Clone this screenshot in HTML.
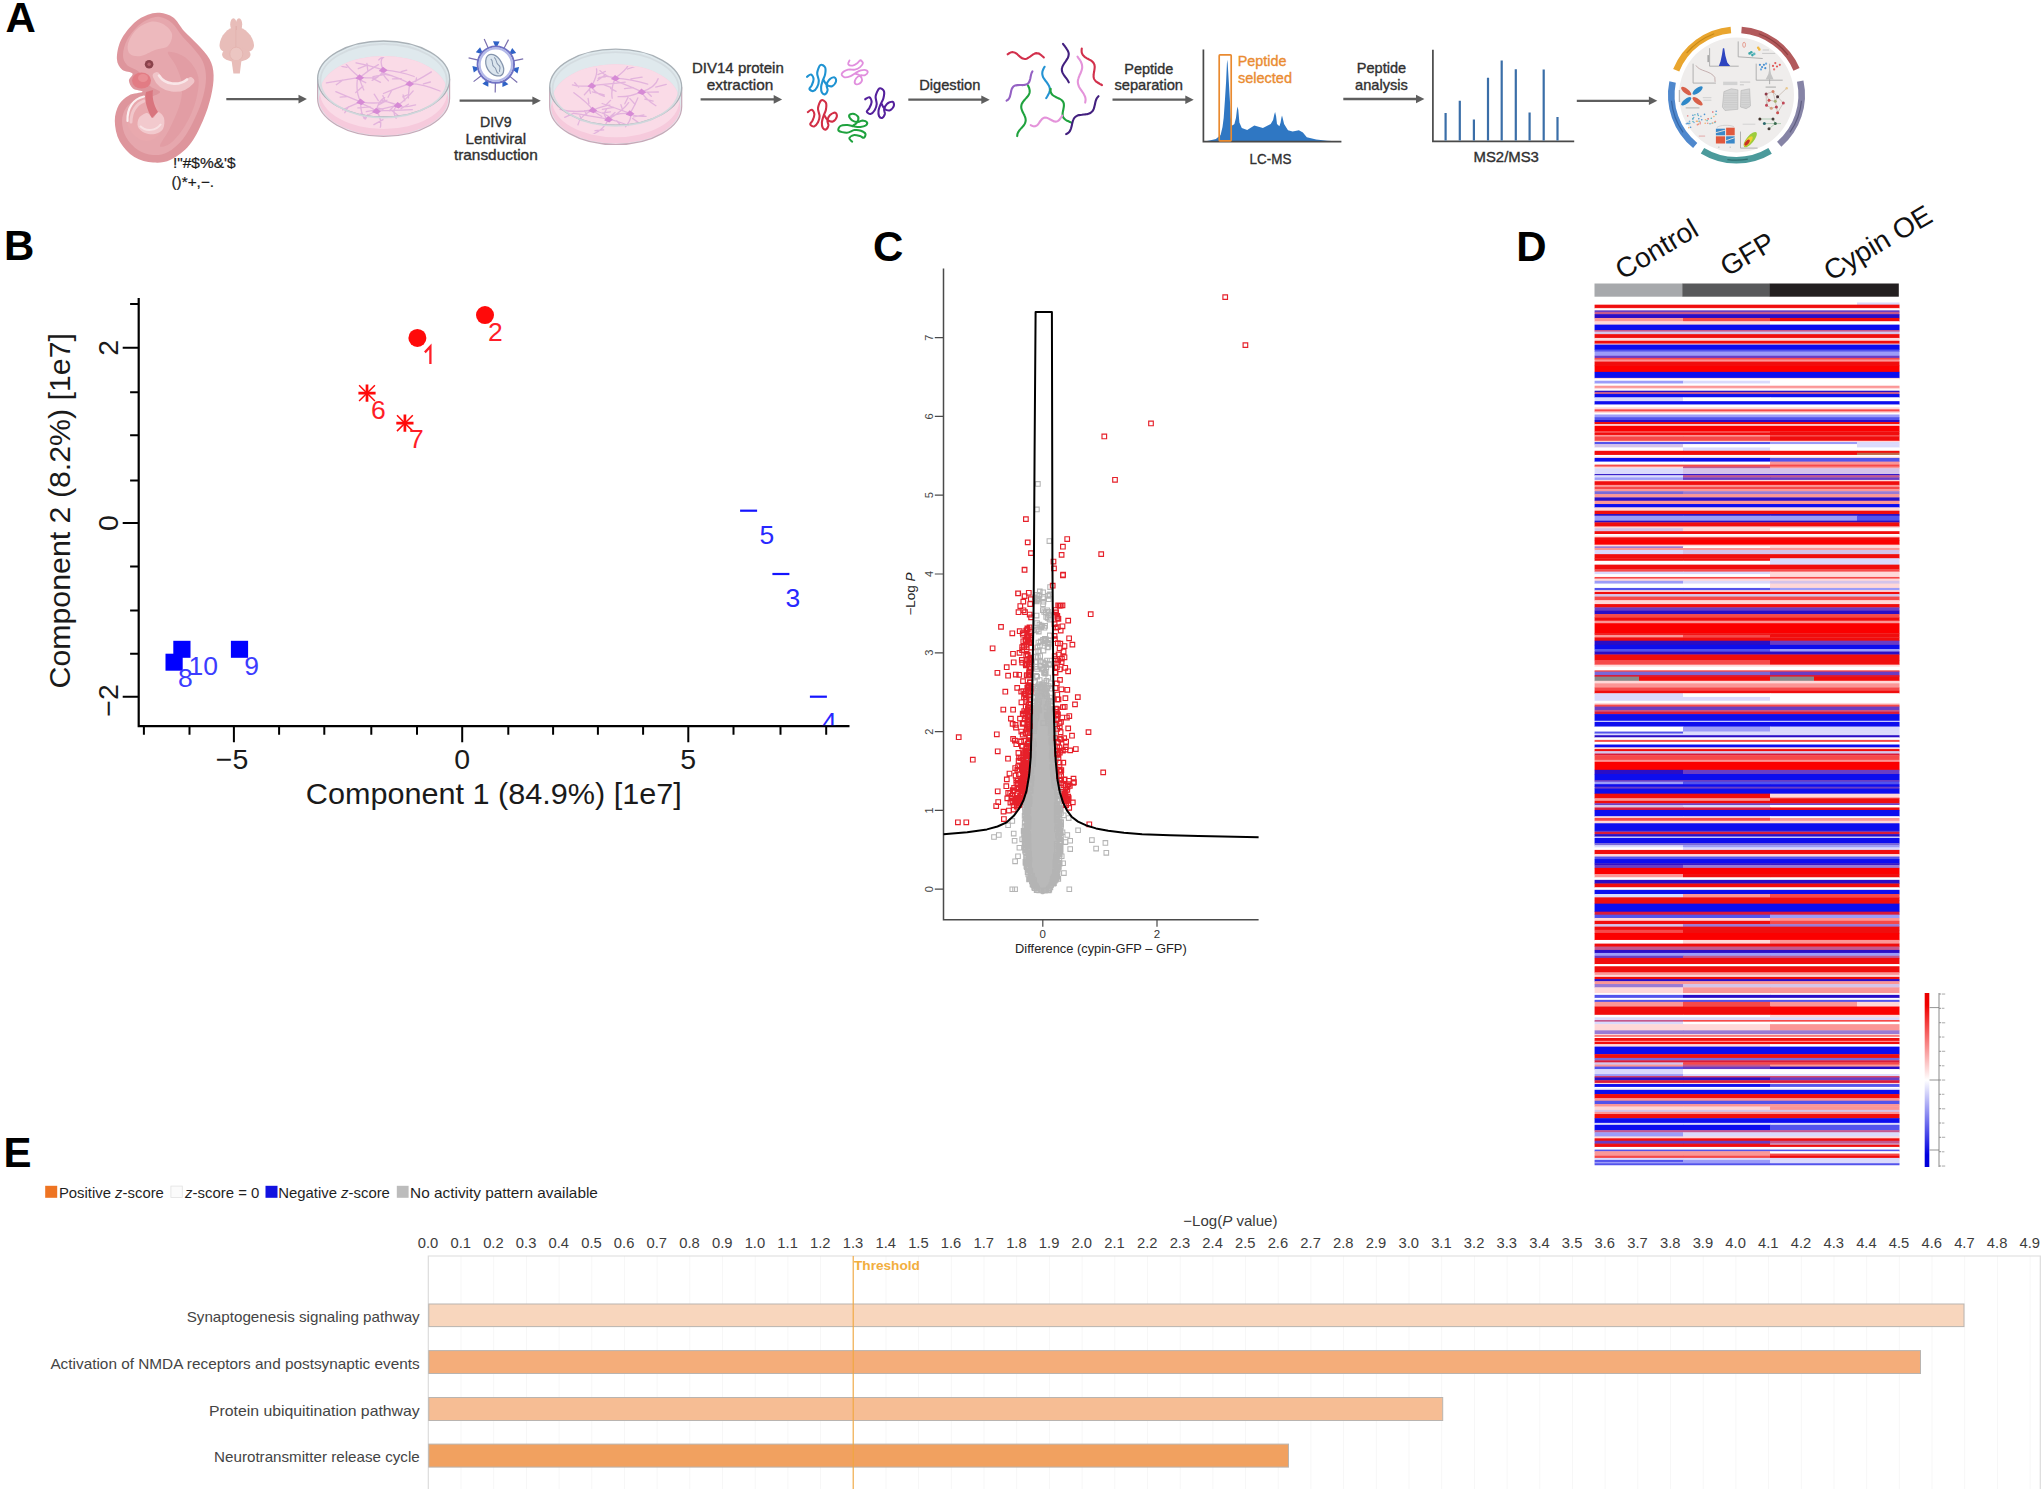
<!DOCTYPE html>
<html><head><meta charset="utf-8"><title>Figure</title>
<style>html,body{margin:0;padding:0;background:#fff;}body{width:2043px;height:1489px;overflow:hidden;font-family:"Liberation Sans",sans-serif;}svg{display:block;}</style></head>
<body>
<svg width="2043" height="1489" viewBox="0 0 2043 1489" font-family="Liberation Sans, sans-serif">
<defs>
<linearGradient id="lg" x1="0" y1="0" x2="0" y2="1"><stop offset="0" stop-color="#e80000"/><stop offset="0.07" stop-color="#f00000"/><stop offset="0.5" stop-color="#ffffff"/><stop offset="0.93" stop-color="#0000e0"/><stop offset="1" stop-color="#0000d8"/></linearGradient>
<filter id="hb" x="-1%" y="-1%" width="102%" height="102%"><feGaussianBlur stdDeviation="0.5"/></filter>
<filter id="soft" x="-5%" y="-5%" width="110%" height="110%"><feGaussianBlur stdDeviation="0.45"/></filter>
</defs>
<rect width="2043" height="1489" fill="#fff"/>
<g id="A">
<g filter="url(#soft)">
<path d="M159.8 12.8C164.1 13.2 169.3 14.5 173.3 17.5C177.3 20.5 180 26.4 184 30.9C188 35.4 193.2 39.6 197.4 44.3C201.7 49 206.8 54 209.5 59.1C212.2 64.2 213.4 68.9 213.6 75.2C213.8 81.5 212.7 89.1 210.9 96.7C209.1 104.3 206.4 112.9 202.8 120.9C199.2 129 194.8 138.5 189.4 145C184 151.5 176.7 156.9 170.6 159.8C164.5 162.7 159.1 162.9 153.1 162.5C147.1 162.1 139.9 160.7 134.3 157.1C128.7 153.5 122.8 147 119.5 141C116.2 135 114.9 126.9 114.8 120.9C114.7 114.9 116.6 109 118.9 104.8C121.2 100.5 125 97.6 128.9 95.4C132.8 93.2 141.8 92.9 142.5 91.8C143.2 90.7 135.3 90.5 133 88.6C130.7 86.7 129 83.1 128.9 80.6C128.8 78.1 133.6 75.3 132.5 73.5C131.4 71.7 124.8 72.2 122.2 69.8C119.6 67.4 117.1 64 116.9 59.1C116.7 54.2 118 46.3 120.9 40.3C123.8 34.2 129.8 27.1 134.3 22.8C138.8 18.6 143.4 16.5 147.7 14.8C151.9 13.1 155.5 12.4 159.8 12.8Z" fill="#de959c"/>
<path d="M160 17C163.8 17.7 168.3 19.8 172 23C175.7 26.2 178.3 31.7 182 36C185.7 40.3 190.5 44.7 194 49C197.5 53.3 201 57.2 203 62C205 66.8 206 72.2 206 78C206 83.8 204.8 90.3 203 97C201.2 103.7 198.3 111 195 118C191.7 125 187.5 133.3 183 139C178.5 144.7 173 149.3 168 152C163 154.7 158 155.3 153 155C148 154.7 142.5 153 138 150C133.5 147 128.7 141.8 126 137C123.3 132.2 122 125.8 122 121C122 116.2 123.7 111.5 126 108C128.3 104.5 132 101.8 136 100C140 98.2 146 98.3 150 97C154 95.7 160 93.8 160 92C160 90.2 153.5 89.3 150 86C146.5 82.7 142.8 75.5 139 72C135.2 68.5 129.7 67.8 127 65C124.3 62.2 123 59.2 123 55C123 50.8 124.5 44.8 127 40C129.5 35.2 134.3 29.5 138 26C141.7 22.5 145.3 20.5 149 19C152.7 17.5 156.2 16.3 160 17Z" fill="#e6a7ad"/>
<path d="M150 22C154.5 21 159.3 22 163 24C166.7 26 171.2 30.3 172 34C172.8 37.7 170.8 43.3 168 46C165.2 48.7 159.5 48.3 155 50C150.5 51.7 145.2 55.3 141 56C136.8 56.7 132.2 56 130 54C127.8 52 127 48 128 44C129 40 132.3 33.7 136 30C139.7 26.3 145.5 23 150 22Z" fill="#edb9bd"/>
<path d="M168 52C169.7 50.7 181 54 186 58C191 62 196.3 69 198 76C199.7 83 198 92 196 100C194 108 190 117 186 124C182 131 176.3 138.3 172 142C167.7 145.7 160.3 148.3 160 146C159.7 143.7 166.7 135 170 128C173.3 121 178 111.3 180 104C182 96.7 182.7 90.3 182 84C181.3 77.7 178.3 71.3 176 66C173.7 60.7 166.3 53.3 168 52Z" fill="#df989f" opacity="0.7"/>
<path d="M141 97C144.2 96.7 148.8 97.8 152 100C155.2 102.2 158.2 106 160 110C161.8 114 163.3 119.7 163 124C162.7 128.3 160.7 133.2 158 136C155.3 138.8 150.7 140.8 147 141C143.3 141.2 139.2 139.5 136 137C132.8 134.5 129.3 130.2 128 126C126.7 121.8 127.2 116 128 112C128.8 108 130.8 104.5 133 102C135.2 99.5 137.8 97.3 141 97Z" fill="#e9a9ae"/>
<path d="M127.5 121C127 108 133 99 144 96.5" stroke="#fbeff0" stroke-width="2.2" fill="none" stroke-linecap="round"/>
<path d="M131 122C131 112 136 104 144 101" stroke="#f1c6ca" stroke-width="3" fill="none" stroke-linecap="round"/>
<path d="M139 118C140.5 115.7 144.7 113 147 113C149.3 113 151.2 118.2 153 118C154.8 117.8 156.2 112 158 112C159.8 112 163.2 115.2 164 118C164.8 120.8 164.5 126.3 163 129C161.5 131.7 158 133.3 155 134C152 134.7 147.8 134.2 145 133C142.2 131.8 139 129.5 138 127C137 124.5 137.5 120.3 139 118Z" fill="#f2c9cd"/>
<path d="M140 126C146 132 156 131 161 124" stroke="#f8e1e3" stroke-width="2" fill="none"/>
<path d="M146 92C144 100 147 110 152 118L158 112C153 104 152 96 153 90Z" fill="#d9757e"/>
<ellipse cx="141.5" cy="80.5" rx="9.5" ry="8" fill="#e27c84"/>
<ellipse cx="143" cy="78" rx="5" ry="4" fill="#e98f95"/>
<path d="M156.5 76C162 90 181 92 190.5 81" stroke="#f0c5c9" stroke-width="7.5" fill="none" stroke-linecap="round"/>
<path d="M159 75.5C165 85 179 86 187 79.5" stroke="#f9e6e8" stroke-width="2.6" fill="none" stroke-linecap="round"/>
<circle cx="149.1" cy="64.2" r="4.3" fill="#8a434c"/><circle cx="149.1" cy="64.2" r="1.7" fill="#b4646c"/>
</g>
<g filter="url(#soft)">
<ellipse cx="233.4" cy="24.2" rx="3.2" ry="6" fill="#e8bdb9"/><ellipse cx="239" cy="24.2" rx="3.2" ry="6" fill="#e8bdb9"/><rect x="231" y="22" width="10.5" height="8" fill="#e8bdb9"/>
<path d="M236 27C228 27 220 36 219.5 45C219.5 52 226 54 236 50Z" fill="#e8bdb9"/>
<path d="M236.5 27C244.5 27 253.5 36 254 45C254 52 247 54 236.5 50Z" fill="#e8bdb9"/>
<path d="M236.2 26V50" stroke="#e0aeaa" stroke-width="1.1"/>
<ellipse cx="236.3" cy="54.5" rx="14.2" ry="7.3" fill="#e8bdb9"/>
<ellipse cx="236.3" cy="54" rx="6.5" ry="6.8" fill="#ecc6c2" stroke="#e0aeaa" stroke-width="0.6"/>
<path d="M231.5 60H241.5L239.8 73.5H233.4Z" fill="#e8bdb9"/>
</g>
<text x="173" y="167.8" font-size="13.8" fill="#1c1c1c" stroke="#1c1c1c" stroke-width="0.2" textLength="62.5" lengthAdjust="spacingAndGlyphs">!&quot;#$%&amp;&apos;$</text>
<text x="171.5" y="187.2" font-size="13.8" fill="#1c1c1c" stroke="#1c1c1c" stroke-width="0.2" textLength="42.5" lengthAdjust="spacingAndGlyphs">()*+,−.</text>
<path d="M226.3 99.1H300.9" stroke="#5e5e5e" stroke-width="2.3" fill="none"/>
<path d="M298.5 94.8L306.9 99.1L298.5 103.4Z" fill="#5e5e5e"/>
<g filter="url(#soft)">
<path d="M317.6 79V98.3A66.0 38.0 0 0 0 449.6 98.3V79A66.0 38.0 0 0 0 317.6 79Z" fill="#dfe9ed"/>
<path d="M320.1 92.5A63.5 36.5 0 0 1 447.1 92.5L448.4 98.3A64.8 37.2 0 0 1 318.8 98.3Z" fill="#f6cadc"/>
<ellipse cx="383.6" cy="92.5" rx="63.5" ry="36.5" fill="#fadbe7"/>
<clipPath id="ds11"><ellipse cx="383.6" cy="92.5" rx="62.5" ry="35.5"/></clipPath>
<g clip-path="url(#ds11)"><path d="M359.7 77.4Q342.6 80.2 326.4 82.9M342.6 80.2l-6.3 4.5M359.7 77.4Q346.9 67.3 343.8 60.3M346.9 67.3l-11.8 -2.1M359.7 77.4Q367.8 70.6 378.4 64.6M367.8 70.6l-0.9 -7.3M359.7 77.4Q372.6 78.3 376.4 77.6M372.6 78.3l7.9 4M359.7 77.4Q359.3 79.7 363.8 90M359.3 79.7l6.4 3M383.2 69.9Q401.2 71.7 414.2 76.5M401.2 71.7l5.6 -1.6M383.2 69.9Q381.1 73.6 388.4 80.7M381.1 73.6l11.4 2.2M383.2 69.9Q382.6 74.9 372.2 80.4M382.6 74.9l-9.6 1.7M383.2 69.9Q367.7 64.8 356 62.8M367.7 64.8l-9.4 3.9M383.2 69.9Q378.7 59.9 383.8 56.9M378.7 59.9l5.7 -5M409.6 83.6Q392.1 89.7 383.5 93.5M392.1 89.7l-4.1 7.6M409.6 83.6Q401.3 78.7 381.7 72.4M401.3 78.7l-8.8 0.2M409.6 83.6Q415.7 81.7 431.4 71.9M415.7 81.7l0.8 -3.7M409.6 83.6Q423.4 83.9 440 91M423.4 83.9l7 -1.9M409.6 83.6Q408.4 94.5 408.4 98.1M408.4 94.5l-5.7 2.4M360.7 101.8Q348.5 106.7 342.7 109.9M348.5 106.7l-3.7 6M360.7 101.8Q346.9 96.6 335.8 91.7M346.9 96.6l-6.7 0.6M360.7 101.8Q355.8 92.6 357.3 80M355.8 92.6l7.1 -6.3M360.7 101.8Q379 104.8 387 100.2M379 104.8l7.5 -4M360.7 101.8Q360.3 113.8 365.1 119.1M360.3 113.8l5.6 2.1M376.4 111Q367.5 114.8 363.8 118M367.5 114.8l-2 4.1M376.4 111Q370.3 106.9 358.6 102.4M370.3 106.9l-12.4 1M376.4 111Q378.3 100.6 384.7 97.6M378.3 100.6l-4.1 -6.4M376.4 111Q389.3 110.7 412.3 109.7M389.3 110.7l6 -5.8M376.4 111Q383 119.6 379.6 130.7M383 119.6l-9.1 5M397.9 105.2Q383 109.4 366.3 111.7M383 109.4l-5.7 -1.4M397.9 105.2Q385.2 100.9 381.7 100.5M385.2 100.9l-2.3 -5.2M397.9 105.2Q404.8 100.8 413.2 90.9M404.8 100.8l-1.7 -5.9M397.9 105.2Q401 108.7 415.6 104.9M401 108.7l7.4 -4.5M397.9 105.2Q391.1 110.1 396.1 118.2M391.1 110.1l7 5.5" stroke="#d9a3d8" stroke-width="1.3" fill="none" opacity="0.7" stroke-linecap="round"/>
<path d="M355.3 78.4L359.4 74.2L364.1 77.8L360.5 80.6Z" fill="#d68ad5"/>
<path d="M378.8 70.9L382.9 66.7L387.6 70.3L384 73.1Z" fill="#d68ad5"/>
<path d="M405.2 84.6L409.3 80.4L414 84L410.4 86.8Z" fill="#d68ad5"/>
<path d="M356.3 102.8L360.4 98.6L365.1 102.2L361.5 105Z" fill="#d68ad5"/>
<path d="M372 112L376.1 107.8L380.8 111.4L377.2 114.2Z" fill="#d68ad5"/>
<path d="M393.5 106.2L397.6 102L402.3 105.6L398.7 108.4Z" fill="#d68ad5"/>
</g>
<path d="M317.6 79V98.3A66.0 38.0 0 0 0 449.6 98.3V79" fill="none" stroke="#c6a9b8" stroke-width="1.2"/>
<ellipse cx="383.6" cy="79" rx="66.0" ry="38.0" fill="none" stroke="#a9b1b7" stroke-width="1.3"/>
<ellipse cx="383.6" cy="80.8" rx="63.2" ry="36.8" fill="none" stroke="#d3dadf" stroke-width="1.8" opacity="0.9"/>
</g>
<g filter="url(#soft)">
<path d="M503.9 48.5L508.5 39.6M513.4 60.9L523.2 58.9M509.6 76.1L517.3 82.5M495.4 82.6L495.2 92.6M481.5 75.5L473.6 81.6M478.3 60.2L468.6 57.8M488.3 48.2L484.2 39.1" stroke="#7a6fae" stroke-width="1.2" fill="none"/>
<path d="M497.4 46.1L499.6 41.5L493 41.3L495 46.1ZM511.2 54.3L516.2 53.1L512.2 47.9L509.8 52.4ZM513.5 70.2L517.5 73.4L519.1 67L514 67.9ZM502.4 81.9L502.4 87.1L508.4 84.3L504.6 80.9ZM486.4 80.6L482.4 83.8L488.3 86.8L488.5 81.6ZM477.4 67.2L472.4 66.1L473.8 72.5L477.9 69.5ZM482.3 51.9L480.1 47.2L475.8 52.3L480.8 53.7Z" fill="#2f62c6"/>
<circle cx="495.8" cy="64.6" r="18.2" fill="#fff" stroke="#6f72c4" stroke-width="2"/>
<circle cx="495.8" cy="64.6" r="16.2" fill="none" stroke="#b4b9e8" stroke-width="2.2"/>
<g transform="translate(495.8 64.6) scale(1.12) translate(-495.8 -64.6)">
<path d="M487.3 58.6C489.8 53.1 496.8 55.1 500.8 62.6C504.8 69.6 502.8 75.6 496.8 74.6C489.8 73.6 485.3 65.6 487.3 58.6Z" fill="#dbe5ee" stroke="#8494ac" stroke-width="1.1"/>
<path d="M491.3 59.6c3 2 0 5 3 7s1 5 4 6M494.3 58.1c3 2 1 5 4 7s0 4 1 6" fill="none" stroke="#8494ac" stroke-width="0.9"/>
</g></g>
<path d="M459.6 100.7H534.8" stroke="#5e5e5e" stroke-width="2.3" fill="none"/>
<path d="M532.4 96.4L540.8 100.7L532.4 105Z" fill="#5e5e5e"/>
<text x="480.1" y="126.7" font-size="15" fill="#303030" stroke="#303030" stroke-width="0.36" textLength="31.5" lengthAdjust="spacingAndGlyphs">DIV9</text>
<text x="465.6" y="143.7" font-size="15" fill="#303030" stroke="#303030" stroke-width="0.36" textLength="60.5" lengthAdjust="spacingAndGlyphs">Lentiviral</text>
<text x="453.9" y="160.4" font-size="15" fill="#303030" stroke="#303030" stroke-width="0.36" textLength="83.8" lengthAdjust="spacingAndGlyphs">transduction</text>
<g filter="url(#soft)">
<path d="M549.7 87.2V106.5A66.0 38.0 0 0 0 681.7 106.5V87.2A66.0 38.0 0 0 0 549.7 87.2Z" fill="#dfe9ed"/>
<path d="M552.2 100.7A63.5 36.5 0 0 1 679.2 100.7L680.5 106.5A64.8 37.2 0 0 1 550.9 106.5Z" fill="#f6cadc"/>
<ellipse cx="615.7" cy="100.7" rx="63.5" ry="36.5" fill="#fadbe7"/>
<clipPath id="ds23"><ellipse cx="615.7" cy="100.7" rx="62.5" ry="35.5"/></clipPath>
<g clip-path="url(#ds23)"><path d="M591.8 85.6Q603.5 84.7 625.2 82.2M603.5 84.7l7.3 2.7M591.8 85.6Q592.3 91.9 604.4 96.3M592.3 91.9l11.9 3M591.8 85.6Q589.6 89.6 584.4 94.7M589.6 89.6l0.9 3.8M591.8 85.6Q578.7 87.1 572.4 84.9M578.7 87.1l-4 -4.3M591.8 85.6Q597.9 74.6 596.5 68.8M597.9 74.6l7.5 -3.2M615.3 78.1Q605.5 76.9 600 70.6M605.5 76.9l-6.5 0.5M615.3 78.1Q627.5 69 629.1 63.4M627.5 69l10.9 -3.6M615.3 78.1Q631 78.9 647.7 84.2M631 78.9l11.1 -1.8M615.3 78.1Q610.6 88.5 612.2 98.2M610.6 88.5l5.5 2.8M615.3 78.1Q605.7 74.5 598.2 78.4M605.7 74.5l-8.2 6.1M641.7 91.8Q655.7 87.2 658.1 78.7M655.7 87.2l10.6 -2.8M641.7 91.8Q647.2 92.3 658.4 92M647.2 92.3l4.1 3.9M641.7 91.8Q644.8 99.1 655.9 105.7M644.8 99.1l8.3 2.1M641.7 91.8Q628 97.4 618.1 96.6M628 97.4l-3.2 6.4M641.7 91.8Q633.3 87.7 617 81.4M633.3 87.7l-8.8 1M592.8 110Q579.9 115.7 577.9 124.8M579.9 115.7l2.1 5M592.8 110Q573.4 113.3 560.1 109.3M573.4 113.3l-8.7 4M592.8 110Q588.9 103.7 573.9 92.7M588.9 103.7l-0.8 -5.3M592.8 110Q605.7 105.2 609.9 105.1M605.7 105.2l4.8 -4.8M592.8 110Q602.6 112.8 607.7 115.9M602.6 112.8l7.9 -1M608.5 119.2Q622.9 110.9 628.6 102.6M622.9 110.9l-2 -6.2M608.5 119.2Q616.7 120.8 628.4 125.5M616.7 120.8l3.1 3.4M608.5 119.2Q603.6 129.9 592.6 134.5M603.6 129.9l-8.6 0.8M608.5 119.2Q587 115.3 574 113.4M587 115.3l-2.4 -4.7M608.5 119.2Q601.8 116.5 606.3 109.3M601.8 116.5l-8.9 -5.8M630 113.4Q613.4 107.3 602.1 103.5M613.4 107.3l-11 2M630 113.4Q635.2 104.5 637.8 97.9M635.2 104.5l-5.3 -5.9M630 113.4Q633.5 116.8 646.1 116.3M633.5 116.8l10.4 -1.9M630 113.4Q632.6 118.4 625.6 126.7M632.6 118.4l6.7 4.8M630 113.4Q615 112.5 608.8 118.2M615 112.5l-5.2 4.5" stroke="#d9a3d8" stroke-width="1.3" fill="none" opacity="0.7" stroke-linecap="round"/>
<path d="M587.4 86.6L591.5 82.4L596.2 86L592.6 88.8Z" fill="#d68ad5"/>
<path d="M610.9 79.1L615 74.9L619.7 78.5L616.1 81.3Z" fill="#d68ad5"/>
<path d="M637.3 92.8L641.4 88.6L646.1 92.2L642.5 95Z" fill="#d68ad5"/>
<path d="M588.4 111L592.5 106.8L597.2 110.4L593.6 113.2Z" fill="#d68ad5"/>
<path d="M604.1 120.2L608.2 116L612.9 119.6L609.3 122.4Z" fill="#d68ad5"/>
<path d="M625.6 114.4L629.7 110.2L634.4 113.8L630.8 116.6Z" fill="#d68ad5"/>
</g>
<path d="M549.7 87.2V106.5A66.0 38.0 0 0 0 681.7 106.5V87.2" fill="none" stroke="#c6a9b8" stroke-width="1.2"/>
<ellipse cx="615.7" cy="87.2" rx="66.0" ry="38.0" fill="none" stroke="#a9b1b7" stroke-width="1.3"/>
<ellipse cx="615.7" cy="89" rx="63.2" ry="36.8" fill="none" stroke="#d3dadf" stroke-width="1.8" opacity="0.9"/>
</g>
<text x="692" y="72.6" font-size="15" fill="#303030" stroke="#303030" stroke-width="0.36" textLength="91.8" lengthAdjust="spacingAndGlyphs">DIV14 protein</text>
<text x="706.8" y="89.8" font-size="15" fill="#303030" stroke="#303030" stroke-width="0.36" textLength="66.5" lengthAdjust="spacingAndGlyphs">extraction</text>
<path d="M700.6 99.4H776.1" stroke="#5e5e5e" stroke-width="2.3" fill="none"/>
<path d="M773.7 95.1L782.1 99.4L773.7 103.7Z" fill="#5e5e5e"/>
<path transform="translate(821.3 79.3) rotate(0) scale(1.00 1.00)" d="M-14.3 -2.5C-13.6 -2.9 -11.4 -5.2 -10.3 -4.8C-9.2 -4.4 -7.8 -2 -7.7 -0.2C-7.6 1.6 -8.9 4.5 -9.6 6.1C-10.3 7.7 -12.2 8.6 -11.9 9.6C-11.6 10.6 -9.3 12.1 -8 11.8C-6.7 11.5 -5 9.4 -4.1 7.7C-3.2 6 -2.5 3.8 -2.5 1.4C-2.5 -1 -4.4 -3.8 -4.1 -6.4C-3.8 -9 -2.2 -13.4 -0.9 -14.3C0.4 -15.2 3 -13.5 3.8 -11.9C4.6 -10.3 4.2 -7.1 3.8 -4.9C3.4 -2.7 2.1 -0.7 1.4 1.4C0.7 3.5 -0.1 5.7 -0.2 7.7C-0.3 9.7 -0.1 12 0.6 13.2C1.3 14.4 2.8 15.3 3.8 14.9C4.8 14.5 6 12.3 6.3 10.8C6.5 9.3 5.1 7.8 5.3 6.1C5.5 4.4 6.4 1.9 7.7 0.6C9 -0.7 12 -2.2 13.2 -1.9C14.4 -1.6 15.1 0.7 14.7 2.2C14.3 3.7 12.4 6.4 10.8 6.9C9.2 7.4 6.7 6.3 5.3 5.3C3.9 4.2 2.7 1.4 2.2 0.6" fill="none" stroke="#1f93d2" stroke-width="2.1" stroke-linecap="round" stroke-linejoin="round"/>
<path transform="translate(854.2 72) rotate(78) scale(0.86 -0.88)" d="M-14.3 -2.5C-13.6 -2.9 -11.4 -5.2 -10.3 -4.8C-9.2 -4.4 -7.8 -2 -7.7 -0.2C-7.6 1.6 -8.9 4.5 -9.6 6.1C-10.3 7.7 -12.2 8.6 -11.9 9.6C-11.6 10.6 -9.3 12.1 -8 11.8C-6.7 11.5 -5 9.4 -4.1 7.7C-3.2 6 -2.5 3.8 -2.5 1.4C-2.5 -1 -4.4 -3.8 -4.1 -6.4C-3.8 -9 -2.2 -13.4 -0.9 -14.3C0.4 -15.2 3 -13.5 3.8 -11.9C4.6 -10.3 4.2 -7.1 3.8 -4.9C3.4 -2.7 2.1 -0.7 1.4 1.4C0.7 3.5 -0.1 5.7 -0.2 7.7C-0.3 9.7 -0.1 12 0.6 13.2C1.3 14.4 2.8 15.3 3.8 14.9C4.8 14.5 6 12.3 6.3 10.8C6.5 9.3 5.1 7.8 5.3 6.1C5.5 4.4 6.4 1.9 7.7 0.6C9 -0.7 12 -2.2 13.2 -1.9C14.4 -1.6 15.1 0.7 14.7 2.2C14.3 3.7 12.4 6.4 10.8 6.9C9.2 7.4 6.7 6.3 5.3 5.3C3.9 4.2 2.7 1.4 2.2 0.6" fill="none" stroke="#e18fde" stroke-width="2.1" stroke-linecap="round" stroke-linejoin="round"/>
<path transform="translate(879.3 102.8) rotate(4) scale(1.00 1.00)" d="M-14.3 -2.5C-13.6 -2.9 -11.4 -5.2 -10.3 -4.8C-9.2 -4.4 -7.8 -2 -7.7 -0.2C-7.6 1.6 -8.9 4.5 -9.6 6.1C-10.3 7.7 -12.2 8.6 -11.9 9.6C-11.6 10.6 -9.3 12.1 -8 11.8C-6.7 11.5 -5 9.4 -4.1 7.7C-3.2 6 -2.5 3.8 -2.5 1.4C-2.5 -1 -4.4 -3.8 -4.1 -6.4C-3.8 -9 -2.2 -13.4 -0.9 -14.3C0.4 -15.2 3 -13.5 3.8 -11.9C4.6 -10.3 4.2 -7.1 3.8 -4.9C3.4 -2.7 2.1 -0.7 1.4 1.4C0.7 3.5 -0.1 5.7 -0.2 7.7C-0.3 9.7 -0.1 12 0.6 13.2C1.3 14.4 2.8 15.3 3.8 14.9C4.8 14.5 6 12.3 6.3 10.8C6.5 9.3 5.1 7.8 5.3 6.1C5.5 4.4 6.4 1.9 7.7 0.6C9 -0.7 12 -2.2 13.2 -1.9C14.4 -1.6 15.1 0.7 14.7 2.2C14.3 3.7 12.4 6.4 10.8 6.9C9.2 7.4 6.7 6.3 5.3 5.3C3.9 4.2 2.7 1.4 2.2 0.6" fill="none" stroke="#54209c" stroke-width="2.1" stroke-linecap="round" stroke-linejoin="round"/>
<path transform="translate(822.1 114.6) rotate(0) scale(1.00 1.00)" d="M-14.3 -2.5C-13.6 -2.9 -11.4 -5.2 -10.3 -4.8C-9.2 -4.4 -7.8 -2 -7.7 -0.2C-7.6 1.6 -8.9 4.5 -9.6 6.1C-10.3 7.7 -12.2 8.6 -11.9 9.6C-11.6 10.6 -9.3 12.1 -8 11.8C-6.7 11.5 -5 9.4 -4.1 7.7C-3.2 6 -2.5 3.8 -2.5 1.4C-2.5 -1 -4.4 -3.8 -4.1 -6.4C-3.8 -9 -2.2 -13.4 -0.9 -14.3C0.4 -15.2 3 -13.5 3.8 -11.9C4.6 -10.3 4.2 -7.1 3.8 -4.9C3.4 -2.7 2.1 -0.7 1.4 1.4C0.7 3.5 -0.1 5.7 -0.2 7.7C-0.3 9.7 -0.1 12 0.6 13.2C1.3 14.4 2.8 15.3 3.8 14.9C4.8 14.5 6 12.3 6.3 10.8C6.5 9.3 5.1 7.8 5.3 6.1C5.5 4.4 6.4 1.9 7.7 0.6C9 -0.7 12 -2.2 13.2 -1.9C14.4 -1.6 15.1 0.7 14.7 2.2C14.3 3.7 12.4 6.4 10.8 6.9C9.2 7.4 6.7 6.3 5.3 5.3C3.9 4.2 2.7 1.4 2.2 0.6" fill="none" stroke="#d22f46" stroke-width="2.1" stroke-linecap="round" stroke-linejoin="round"/>
<path transform="translate(852.7 127.9) rotate(-98) scale(0.95 1.00)" d="M-14.3 -2.5C-13.6 -2.9 -11.4 -5.2 -10.3 -4.8C-9.2 -4.4 -7.8 -2 -7.7 -0.2C-7.6 1.6 -8.9 4.5 -9.6 6.1C-10.3 7.7 -12.2 8.6 -11.9 9.6C-11.6 10.6 -9.3 12.1 -8 11.8C-6.7 11.5 -5 9.4 -4.1 7.7C-3.2 6 -2.5 3.8 -2.5 1.4C-2.5 -1 -4.4 -3.8 -4.1 -6.4C-3.8 -9 -2.2 -13.4 -0.9 -14.3C0.4 -15.2 3 -13.5 3.8 -11.9C4.6 -10.3 4.2 -7.1 3.8 -4.9C3.4 -2.7 2.1 -0.7 1.4 1.4C0.7 3.5 -0.1 5.7 -0.2 7.7C-0.3 9.7 -0.1 12 0.6 13.2C1.3 14.4 2.8 15.3 3.8 14.9C4.8 14.5 6 12.3 6.3 10.8C6.5 9.3 5.1 7.8 5.3 6.1C5.5 4.4 6.4 1.9 7.7 0.6C9 -0.7 12 -2.2 13.2 -1.9C14.4 -1.6 15.1 0.7 14.7 2.2C14.3 3.7 12.4 6.4 10.8 6.9C9.2 7.4 6.7 6.3 5.3 5.3C3.9 4.2 2.7 1.4 2.2 0.6" fill="none" stroke="#1fa23e" stroke-width="2.1" stroke-linecap="round" stroke-linejoin="round"/>
<text x="919.2" y="89.5" font-size="15" fill="#303030" stroke="#303030" stroke-width="0.36" textLength="61.1" lengthAdjust="spacingAndGlyphs">Digestion</text>
<path d="M908.3 99.7H983.7" stroke="#5e5e5e" stroke-width="2.3" fill="none"/>
<path d="M981.3 95.4L989.7 99.7L981.3 104Z" fill="#5e5e5e"/>
<path d="M1007.7 54.3C1008.1 54.1 1009 53.3 1009.7 53C1010.3 52.6 1011 52.4 1011.6 52.2C1012.3 52.1 1012.9 52.1 1013.5 52.2C1014.2 52.3 1014.8 52.6 1015.4 52.9C1016 53.3 1016.6 53.7 1017.3 54.2C1017.9 54.7 1018.5 55.3 1019.1 55.9C1019.7 56.4 1020.3 57 1020.9 57.4C1021.5 57.9 1022.2 58.3 1022.8 58.6C1023.4 58.8 1024 59 1024.7 59C1025.3 59 1025.9 58.9 1026.6 58.7C1027.2 58.5 1027.9 58.1 1028.5 57.7C1029.2 57.3 1029.8 56.8 1030.5 56.3C1031.1 55.8 1031.8 55.2 1032.5 54.8C1033.1 54.4 1033.8 53.9 1034.4 53.7C1035.1 53.4 1035.7 53.2 1036.3 53.1C1037 53.1 1037.6 53.2 1038.2 53.4C1038.9 53.5 1039.5 53.9 1040.1 54.3C1040.7 54.7 1041.3 55.2 1041.9 55.8C1042.5 56.3 1043.5 57.1 1043.8 57.4" fill="none" stroke="#d2304c" stroke-width="2.1" stroke-linecap="round"/>
<path d="M1063 43.8C1063.3 44.2 1064.2 45.4 1064.8 46.2C1065.3 47 1066 47.8 1066.5 48.6C1067.1 49.4 1067.6 50.2 1067.9 51C1068.3 51.8 1068.6 52.6 1068.7 53.4C1068.8 54.2 1068.7 55 1068.5 55.8C1068.4 56.6 1068 57.4 1067.6 58.3C1067.2 59.1 1066.7 59.9 1066.1 60.7C1065.6 61.5 1065 62.4 1064.4 63.2C1063.9 64 1063.3 64.8 1062.9 65.6C1062.5 66.4 1062.2 67.2 1062 68.1C1061.8 68.9 1061.8 69.7 1061.9 70.5C1062 71.3 1062.3 72.1 1062.6 72.9C1063 73.7 1063.5 74.5 1064 75.3C1064.5 76.1 1065.2 76.9 1065.8 77.7C1066.4 78.5 1067 79.2 1067.5 80C1068 80.8 1068.6 82 1068.8 82.4" fill="none" stroke="#43207f" stroke-width="2.1" stroke-linecap="round"/>
<path d="M1081.8 48.5C1081.7 49 1081.6 50.3 1081.6 51.1C1081.6 51.9 1081.7 52.6 1082 53.3C1082.2 54 1082.5 54.7 1083 55.2C1083.5 55.8 1084.1 56.4 1084.7 56.9C1085.4 57.4 1086.1 57.8 1086.9 58.3C1087.6 58.7 1088.5 59.1 1089.3 59.6C1090 60 1090.8 60.4 1091.5 60.9C1092.1 61.4 1092.7 61.9 1093.2 62.5C1093.7 63.1 1094 63.8 1094.3 64.4C1094.5 65.1 1094.6 65.9 1094.7 66.7C1094.7 67.5 1094.6 68.3 1094.5 69.2C1094.4 70.1 1094.2 71 1094.1 71.8C1093.9 72.7 1093.7 73.6 1093.7 74.5C1093.6 75.3 1093.6 76.1 1093.6 76.9C1093.7 77.7 1093.9 78.4 1094.2 79.1C1094.5 79.7 1095 80.3 1095.5 80.9C1096 81.4 1096.7 81.9 1097.4 82.4C1098.1 82.9 1098.9 83.3 1099.7 83.8C1100.4 84.2 1101.6 84.8 1102 85.1" fill="none" stroke="#d2304c" stroke-width="2.1" stroke-linecap="round"/>
<path d="M1077.5 56.7C1077.8 57.1 1078.7 58.4 1079.3 59.2C1079.9 60.1 1080.4 60.9 1080.9 61.8C1081.3 62.7 1081.7 63.6 1081.9 64.5C1082.1 65.4 1082.2 66.3 1082.2 67.2C1082.2 68.1 1082 69 1081.7 70C1081.5 70.9 1081.1 71.9 1080.7 72.8C1080.3 73.8 1079.8 74.7 1079.4 75.7C1079 76.6 1078.6 77.6 1078.4 78.5C1078.1 79.5 1077.9 80.4 1077.8 81.3C1077.8 82.3 1077.9 83.2 1078.1 84.1C1078.3 85 1078.6 85.8 1079 86.7C1079.5 87.6 1080 88.4 1080.6 89.3C1081.2 90.2 1081.8 91 1082.4 91.9C1083 92.7 1083.6 93.6 1084 94.4C1084.5 95.3 1084.9 96.2 1085.2 97.1C1085.4 98 1085.6 98.9 1085.6 99.8C1085.6 100.7 1085.2 102.1 1085.2 102.6" fill="none" stroke="#e493da" stroke-width="2.1" stroke-linecap="round"/>
<path d="M1044.6 66.8C1044.4 67.2 1043.6 68.5 1043.3 69.3C1042.9 70.1 1042.6 71 1042.4 71.8C1042.3 72.6 1042.2 73.4 1042.3 74.2C1042.4 75 1042.6 75.8 1042.9 76.6C1043.2 77.4 1043.7 78.1 1044.2 78.9C1044.7 79.7 1045.3 80.5 1045.9 81.3C1046.5 82 1047.1 82.8 1047.6 83.6C1048.1 84.4 1048.6 85.1 1049 85.9C1049.4 86.7 1049.6 87.5 1049.8 88.3C1049.9 89.1 1049.9 89.9 1049.8 90.7C1049.6 91.5 1049.3 92.3 1049 93.2C1048.7 94 1048.2 94.8 1047.7 95.6C1047.3 96.5 1046.5 97.7 1046.2 98.1" fill="none" stroke="#2493d3" stroke-width="2.1" stroke-linecap="round"/>
<path d="M1006.6 100.6C1006.9 100.4 1007.8 99.9 1008.3 99.4C1008.8 99 1009.2 98.4 1009.5 97.7C1009.8 97 1010 96.2 1010.2 95.4C1010.5 94.6 1010.6 93.7 1010.8 92.9C1011 92.1 1011.1 91.2 1011.3 90.4C1011.6 89.6 1011.8 88.8 1012.2 88.2C1012.5 87.6 1012.9 87 1013.4 86.5C1013.9 86.1 1014.6 85.8 1015.2 85.5C1015.9 85.3 1016.7 85.2 1017.5 85.1C1018.3 85 1019.2 85 1020 85C1020.9 85 1021.8 85.1 1022.6 85.1C1023.5 85 1024.3 85 1025.1 84.8C1025.8 84.7 1026.5 84.5 1027.1 84.1C1027.7 83.8 1028.2 83.3 1028.6 82.8C1029 82.3 1029.4 81.6 1029.6 80.9C1029.9 80.1 1030.1 79.3 1030.3 78.5C1030.5 77.6 1030.6 76.7 1030.8 75.9C1031 75.1 1031.2 74.2 1031.4 73.5C1031.7 72.7 1032.2 71.8 1032.4 71.4" fill="none" stroke="#9461c3" stroke-width="2.1" stroke-linecap="round"/>
<path d="M1028.1 85.7C1028.3 86.1 1028.9 87.4 1029.2 88.2C1029.4 89 1029.6 89.8 1029.7 90.6C1029.7 91.4 1029.7 92.2 1029.5 93C1029.3 93.7 1028.9 94.5 1028.5 95.2C1028.1 95.9 1027.5 96.6 1026.9 97.3C1026.3 98 1025.6 98.7 1025 99.4C1024.4 100.1 1023.8 100.8 1023.2 101.5C1022.7 102.3 1022.2 103 1021.9 103.7C1021.6 104.5 1021.4 105.2 1021.3 106C1021.2 106.8 1021.2 107.6 1021.4 108.4C1021.6 109.2 1021.9 110 1022.2 110.8C1022.5 111.7 1023 112.5 1023.4 113.4C1023.8 114.2 1024.3 115 1024.6 115.9C1025 116.7 1025.3 117.5 1025.5 118.4C1025.6 119.2 1025.7 120 1025.7 120.7C1025.6 121.5 1025.4 122.3 1025.1 123C1024.8 123.8 1024.4 124.5 1023.9 125.2C1023.4 125.9 1022.7 126.6 1022.1 127.3C1021.5 128 1020.8 128.7 1020.2 129.4C1019.6 130.1 1019 130.8 1018.6 131.6C1018.1 132.3 1017.8 133 1017.5 133.8C1017.3 134.5 1017.3 135.7 1017.2 136.1" fill="none" stroke="#1fa23e" stroke-width="2.1" stroke-linecap="round"/>
<path d="M1050.7 88.9C1050.7 89.3 1050.5 90.5 1050.6 91.2C1050.7 92 1050.9 92.7 1051.3 93.3C1051.6 93.9 1052 94.5 1052.6 95C1053.2 95.5 1053.9 96 1054.6 96.4C1055.3 96.8 1056.2 97.2 1057 97.6C1057.7 98 1058.6 98.3 1059.4 98.7C1060.1 99.1 1060.9 99.6 1061.5 100C1062.1 100.5 1062.6 101.1 1063 101.7C1063.4 102.3 1063.6 102.9 1063.8 103.6C1063.9 104.3 1063.9 105.1 1063.9 105.9C1063.8 106.8 1063.7 107.6 1063.5 108.5C1063.4 109.4 1063.1 110.3 1063 111.1C1062.8 112 1062.6 112.9 1062.6 113.7C1062.6 114.5 1062.6 115.3 1062.8 116C1062.9 116.7 1063.2 117.3 1063.6 117.9C1064 118.5 1064.6 119 1065.2 119.5C1065.8 120 1066.6 120.4 1067.3 120.8C1068.1 121.2 1069 121.6 1069.8 121.9C1070.6 122.3 1071.7 122.9 1072.1 123.1" fill="none" stroke="#1fa23e" stroke-width="2.1" stroke-linecap="round"/>
<path d="M1030.7 125.2C1031 125.4 1032 125.9 1032.6 126.1C1033.3 126.3 1033.9 126.4 1034.5 126.3C1035.1 126.3 1035.6 126.1 1036.1 125.8C1036.7 125.6 1037.2 125.1 1037.7 124.7C1038.1 124.2 1038.6 123.5 1039.1 122.9C1039.5 122.3 1039.9 121.6 1040.4 121C1040.9 120.4 1041.3 119.8 1041.8 119.3C1042.3 118.8 1042.8 118.4 1043.3 118.1C1043.8 117.8 1044.4 117.6 1045 117.5C1045.6 117.5 1046.2 117.6 1046.8 117.8C1047.4 117.9 1048.1 118.3 1048.8 118.6C1049.4 118.9 1050.1 119.4 1050.8 119.7C1051.5 120.1 1052.1 120.5 1052.8 120.8C1053.5 121.1 1054.1 121.4 1054.7 121.5C1055.3 121.6 1055.9 121.6 1056.5 121.5C1057.1 121.4 1057.6 121.1 1058.1 120.8C1058.6 120.4 1059.1 119.9 1059.6 119.4C1060.1 118.9 1060.5 118.2 1061 117.6C1061.4 117 1062.1 116 1062.3 115.7" fill="none" stroke="#e493da" stroke-width="2.1" stroke-linecap="round"/>
<path d="M1066.1 134.1C1066.5 133.9 1067.7 133.4 1068.3 132.8C1069 132.3 1069.5 131.7 1070 130.9C1070.4 130.2 1070.7 129.3 1071 128.5C1071.3 127.6 1071.5 126.5 1071.8 125.6C1072 124.6 1072.2 123.6 1072.4 122.6C1072.7 121.7 1072.9 120.7 1073.3 119.9C1073.7 119 1074.1 118.3 1074.6 117.7C1075.2 117 1075.8 116.5 1076.5 116.1C1077.3 115.7 1078.1 115.4 1079 115.1C1079.9 114.9 1080.9 114.8 1081.9 114.7C1082.9 114.5 1083.9 114.5 1084.9 114.4C1085.9 114.2 1086.9 114.1 1087.8 113.9C1088.7 113.7 1089.6 113.4 1090.3 113C1091 112.6 1091.7 112 1092.2 111.4C1092.8 110.8 1093.2 110 1093.6 109.2C1093.9 108.4 1094.2 107.4 1094.4 106.5C1094.7 105.5 1094.9 104.5 1095.1 103.5C1095.3 102.5 1095.5 101.5 1095.8 100.6C1096.1 99.7 1096.4 98.9 1096.9 98.1C1097.3 97.4 1098.2 96.5 1098.5 96.2" fill="none" stroke="#43207f" stroke-width="2.1" stroke-linecap="round"/>
<text x="1124.3" y="73.5" font-size="15" fill="#303030" stroke="#303030" stroke-width="0.36" textLength="49" lengthAdjust="spacingAndGlyphs">Peptide</text>
<text x="1114.4" y="89.8" font-size="15" fill="#303030" stroke="#303030" stroke-width="0.36" textLength="68.6" lengthAdjust="spacingAndGlyphs">separation</text>
<path d="M1112.5 99.7H1187.7" stroke="#5e5e5e" stroke-width="2.3" fill="none"/>
<path d="M1185.3 95.4L1193.7 99.7L1185.3 104Z" fill="#5e5e5e"/>
<path d="M1204.2 141.4L1209.6 140.6L1215.9 138.9L1220.6 134.9L1222.5 127.1L1223.7 117.7L1225 98.9L1226.1 81.7L1226.9 63.7L1227.2 59.8L1227.7 63.7L1228.8 81.7L1229.9 100.5L1230.8 117.7L1231.6 124L1232.4 125.6L1234.4 124L1236 117.7L1236.9 109.9L1237.5 106.4L1238.3 109.9L1239.4 122.4L1241.8 127.9L1247.2 129.9L1254.3 125.6L1262.9 127.9L1270.7 124L1273.1 120.1L1274.3 114.6L1275.1 111.9L1276.1 116.2L1277 124L1279.4 126.3L1280.6 122.4L1281.4 117.7L1282 115.4L1282.8 118.5L1284.1 124L1288 130.3L1292.7 131.5L1298.9 130.3L1302.9 132.6L1306.8 137.3L1316.2 139.6L1327.1 140.7L1341.2 141.5L1341.2 141.8L1204.2 141.8Z" fill="#2f77c3"/>
<path d="M1203.4 49.5V141.6H1341.4" fill="none" stroke="#494949" stroke-width="1.7"/>
<rect x="1219.2" y="54.9" width="12" height="86" fill="none" stroke="#e98a30" stroke-width="1.7" rx="0.8"/>
<text x="1237.8" y="66.3" font-size="15" fill="#ea8b31" stroke="#ea8b31" stroke-width="0.36" textLength="48.6" lengthAdjust="spacingAndGlyphs">Peptide</text>
<text x="1237.9" y="82.8" font-size="15" fill="#ea8b31" stroke="#ea8b31" stroke-width="0.36" textLength="54.1" lengthAdjust="spacingAndGlyphs">selected</text>
<text x="1249.6" y="164" font-size="15" fill="#303030" stroke="#303030" stroke-width="0.36" textLength="41.8" lengthAdjust="spacingAndGlyphs">LC-MS</text>
<text x="1356.8" y="73.1" font-size="15" fill="#303030" stroke="#303030" stroke-width="0.36" textLength="49.3" lengthAdjust="spacingAndGlyphs">Peptide</text>
<text x="1355" y="89.5" font-size="15" fill="#303030" stroke="#303030" stroke-width="0.36" textLength="52.8" lengthAdjust="spacingAndGlyphs">analysis</text>
<path d="M1343.3 99H1418.4" stroke="#5e5e5e" stroke-width="2.3" fill="none"/>
<path d="M1416 94.7L1424.4 99L1416 103.3Z" fill="#5e5e5e"/>
<path d="M1432.9 49.8V141.3H1574.2" fill="none" stroke="#494949" stroke-width="1.7"/>
<path d="M1445.6 140.5V112.9M1459.8 140.5V100.8M1473.9 140.5V119.4M1488 140.5V77.8M1501.7 140.5V60.6M1515.8 140.5V69.2M1529.6 140.5V112.5M1543.7 140.5V69.5M1557.5 140.5V117" stroke="#3a6ea8" stroke-width="2.2" fill="none"/>
<text x="1473.5" y="161.7" font-size="15" fill="#303030" stroke="#303030" stroke-width="0.36" textLength="65.4" lengthAdjust="spacingAndGlyphs">MS2/MS3</text>
<path d="M1576.8 100.8H1651.3" stroke="#5e5e5e" stroke-width="2.3" fill="none"/>
<path d="M1648.9 96.5L1657.3 100.8L1648.9 105.1Z" fill="#5e5e5e"/>
<g filter="url(#soft)">
<circle cx="1736.5" cy="95.0" r="57.5" fill="#efedec"/>
<path d="M1676.2 70.2A65.2 65.2 0 0 1 1730.9 30" fill="none" stroke="#e9a52e" stroke-width="6.6"/>
<path d="M1741.5 30A65.2 65.2 0 0 1 1796.5 69.4" fill="none" stroke="#b25a5c" stroke-width="6.6"/>
<path d="M1800.2 81.1A65.2 65.2 0 0 1 1779.2 144.3" fill="none" stroke="#8684a6" stroke-width="6.6"/>
<path d="M1770.1 150.9A65.2 65.2 0 0 1 1702.5 150.7" fill="none" stroke="#4b9a9b" stroke-width="6.6"/>
<path d="M1695.2 145.5A65.2 65.2 0 0 1 1672.6 82" fill="none" stroke="#4f88cd" stroke-width="6.6"/>
<path d="M1686.6 53.1A65.2 65.2 0 0 1 1714.2 33.7" fill="none" stroke="#c78a18" stroke-width="1.2"/>
<path d="M1758.8 33.7A65.2 65.2 0 0 1 1787.9 54.9" fill="none" stroke="#8e4042" stroke-width="1.2"/>
<path d="M1801.5 100.7A65.2 65.2 0 0 1 1789.9 132.4" fill="none" stroke="#5f5d80" stroke-width="1.2"/>
<path d="M1747.8 159.2A65.2 65.2 0 0 1 1727.4 159.6" fill="none" stroke="#2d6f70" stroke-width="1.3"/>
<path d="M1683.1 132.4A65.2 65.2 0 0 1 1671.5 100.7" fill="none" stroke="#3566a6" stroke-width="1.2"/>
<path d="M1709.6 48.2V66.2H1738.7" fill="none" stroke="#a9a9a9" stroke-width="0.9"/>
<path d="M1718.8 65.9L1720.5 61.4L1722 54.5L1722.9 48.2L1724.2 48.2L1725.4 55.7L1727.3 62.5L1730.2 65.9Z" fill="#2f45c0"/>
<rect x="1707.4" y="55.1" width="1.6" height="7" fill="#a9a9a9"/>
<path d="M1693.1 63.7V83.1H1715.9" fill="none" stroke="#a9a9a9" stroke-width="0.9"/>
<path d="M1695.9 65.4C1699.4 71.6 1710.8 70.5 1714.8 77.4L1715.1 81.9" fill="none" stroke="#b9a0a0" stroke-width="0.8"/>
<path d="M1738.2 41.4V56.8L1762.7 58.5" fill="none" stroke="#a9a9a9" stroke-width="0.9"/>
<ellipse cx="1744.1" cy="44.8" rx="1.4" ry="2.6" fill="none" stroke="#e08070" stroke-width="0.7"/>
<circle cx="1749.6" cy="53.4" r="1.3" fill="#3aa6a8"/>
<circle cx="1752.4" cy="55.1" r="1.3" fill="#3aa6a8"/>
<circle cx="1751.3" cy="52.2" r="1.3" fill="#3aa6a8"/>
<circle cx="1754.2" cy="53.9" r="1.3" fill="#5bb8c0"/>
<circle cx="1758.2" cy="47.7" r="1.3" fill="#f0b840"/>
<circle cx="1759.3" cy="49.4" r="1.3" fill="#f0b840"/>
<path d="M1762.7 50h6.3M1762.1 53.4h13.1" stroke="#c9c9c9" stroke-width="1"/>
<path d="M1756.2 63.7V80.2H1782.7M1769.6 63.7V84.2" fill="none" stroke="#a9a9a9" stroke-width="0.9"/>
<path d="M1765.6 79.6L1768.4 73.9L1769.6 67.1L1771.1 73.9L1773.6 79.6Z" fill="#c4c4c4"/>
<circle cx="1759.9" cy="64.8" r="1.1" fill="#4a90d0"/>
<circle cx="1762.1" cy="67.1" r="1.1" fill="#4a90d0"/>
<circle cx="1763.9" cy="64.8" r="1.1" fill="#4a90d0"/>
<circle cx="1765.3" cy="68.2" r="1.1" fill="#4a90d0"/>
<circle cx="1761" cy="69.4" r="1.1" fill="#6aa8dc"/>
<circle cx="1766.1" cy="63.7" r="1.1" fill="#6aa8dc"/>
<circle cx="1773" cy="65.9" r="1.1" fill="#e05858"/>
<circle cx="1775.3" cy="63.1" r="1.1" fill="#e05858"/>
<circle cx="1777" cy="66.5" r="1.1" fill="#e05858"/>
<circle cx="1779.8" cy="64.8" r="1.1" fill="#e05858"/>
<circle cx="1774.1" cy="69.4" r="1.1" fill="#e87878"/>
<path d="M1765.6 87.1h10.3" stroke="#b5b5b5" stroke-width="1.2"/>
<ellipse cx="1686.2" cy="91.1" rx="6.2" ry="2.4" fill="#d8604a" transform="rotate(38 1686.2 91.1)"/>
<ellipse cx="1697.6" cy="90.5" rx="6.2" ry="2.4" fill="#2f88c8" transform="rotate(-38 1697.6 90.5)"/>
<ellipse cx="1686.2" cy="101.3" rx="6.2" ry="2.4" fill="#2f88c8" transform="rotate(-38 1686.2 101.3)"/>
<ellipse cx="1697.6" cy="101.3" rx="6.2" ry="2.4" fill="#d8604a" transform="rotate(38 1697.6 101.3)"/>
<path d="M1679.4 89.9v12M1685.7 107.9h13.7" stroke="#bdbdbd" stroke-width="1.3"/>
<path d="M1702.8 97.7h8.6M1703.4 100.2h8" stroke="#cfcfcf" stroke-width="1"/>
<rect x="1723.1" y="81.7" width="14.3" height="3.4" fill="#d2d2d2"/>
<path d="M1723.9 91.6L1731.3 88.8L1737.9 89.9L1737.9 109.3L1725 110.5L1722.4 107Z" fill="#d5d5d5" stroke="#b3b3b3" stroke-width="0.6"/>
<path d="M1741 90.5L1749.6 88.8L1750.5 105.9L1746.2 108.7L1740.5 107Z" fill="#d5d5d5" stroke="#b3b3b3" stroke-width="0.6"/>
<path d="M1723.9 93.3H1737.7M1741.4 93.3H1749.8M1723.9 95.6H1737.7M1741.4 95.6H1749.8M1723.9 97.9H1737.7M1741.4 97.9H1749.8M1723.9 100.2H1737.7M1741.4 100.2H1749.8M1723.9 102.5H1737.7M1741.4 102.5H1749.8M1723.9 104.7H1737.7M1741.4 104.7H1749.8M1723.9 107H1737.7M1741.4 107H1749.8" stroke="#c0c0c0" stroke-width="0.5"/>
<path d="M1739.9 82.1h10.3M1739.9 84.8h4" stroke="#c4c4c4" stroke-width="0.9"/>
<path d="M1766.1 93.9L1773 91.6M1773 91.6L1777.6 96.8M1766.1 93.9L1769 100.2M1769 100.2L1775.3 101.3M1777.6 96.8L1775.3 101.3M1769 100.2L1766.5 105.3M1775.3 101.3L1776.4 107M1776.4 107L1777.6 112.7M1777.6 96.8L1783.3 103M1783.3 103L1777.6 112.7M1766.5 105.3L1771.3 108.2M1771.3 108.2L1776.4 107M1773 91.6L1775.3 101.3M1766.1 93.9L1766.5 105.3M1777.6 96.8L1786.7 88.2" stroke="#b9a9a0" stroke-width="0.6"/>
<circle cx="1766.1" cy="93.9" r="1.5" fill="#8e3a4a"/>
<circle cx="1773" cy="91.6" r="1.5" fill="#d88068"/>
<circle cx="1777.6" cy="96.8" r="1.5" fill="#4a3038"/>
<circle cx="1769" cy="100.2" r="1.5" fill="#c85050"/>
<circle cx="1775.3" cy="101.3" r="1.5" fill="#a8b070"/>
<circle cx="1766.5" cy="105.3" r="1.5" fill="#c04858"/>
<circle cx="1776.4" cy="107" r="1.5" fill="#b84050"/>
<circle cx="1783.3" cy="103" r="1.5" fill="#c04858"/>
<circle cx="1777.6" cy="112.7" r="1.5" fill="#c85050"/>
<circle cx="1771.3" cy="108.2" r="1.5" fill="#d8a080"/>
<circle cx="1786.7" cy="88.2" r="1.2" fill="#e8c890"/>
<path d="M1759.9 119L1773 119M1764.4 123.6L1775.3 123.6M1773 119L1775.3 123.6M1769 128.7L1775.3 123.6M1775.3 123.6h5.7" stroke="#9ac0a0" stroke-width="0.7"/>
<circle cx="1759.9" cy="119" r="1.5" fill="#40302c"/>
<circle cx="1773" cy="119" r="1.5" fill="#48403c"/>
<circle cx="1764.4" cy="123.6" r="1.5" fill="#2d6a6e"/>
<circle cx="1775.3" cy="123.6" r="1.5" fill="#3a6a50"/>
<circle cx="1769" cy="128.7" r="1.5" fill="#48403c"/>
<circle cx="1693" cy="121.5" r="0.8" fill="#5bb8c0"/>
<circle cx="1713.9" cy="116.5" r="0.8" fill="#f0b070"/>
<circle cx="1687.7" cy="115.9" r="0.8" fill="#e89090"/>
<circle cx="1693.7" cy="117.5" r="0.8" fill="#7ab0e0"/>
<circle cx="1700.2" cy="123.8" r="0.8" fill="#e89090"/>
<circle cx="1697.9" cy="124.5" r="0.8" fill="#e05858"/>
<circle cx="1705.2" cy="123.2" r="0.8" fill="#f0b070"/>
<circle cx="1697.7" cy="114" r="0.8" fill="#4a90d0"/>
<circle cx="1690.6" cy="127.2" r="0.8" fill="#4a90d0"/>
<circle cx="1694.9" cy="114.7" r="0.8" fill="#5bb8c0"/>
<circle cx="1700.2" cy="122.3" r="0.8" fill="#e89090"/>
<circle cx="1707.7" cy="123.3" r="0.8" fill="#e89090"/>
<circle cx="1708.1" cy="118.9" r="0.8" fill="#e05858"/>
<circle cx="1712.8" cy="112" r="0.8" fill="#e05858"/>
<circle cx="1700.9" cy="116.4" r="0.8" fill="#7ab0e0"/>
<circle cx="1699.1" cy="121.3" r="0.8" fill="#5bb8c0"/>
<circle cx="1698.6" cy="124" r="0.8" fill="#f0b070"/>
<circle cx="1696.5" cy="121.3" r="0.8" fill="#f0b070"/>
<circle cx="1692.8" cy="119" r="0.8" fill="#4a90d0"/>
<circle cx="1712.1" cy="123.3" r="0.8" fill="#7ab0e0"/>
<circle cx="1707.1" cy="120.6" r="0.8" fill="#5bb8c0"/>
<circle cx="1715.4" cy="121.6" r="0.8" fill="#f0b070"/>
<circle cx="1688.9" cy="123.8" r="0.8" fill="#7ab0e0"/>
<circle cx="1711.3" cy="118.2" r="0.8" fill="#5bb8c0"/>
<circle cx="1689.5" cy="121.4" r="0.8" fill="#7ab0e0"/>
<circle cx="1716.2" cy="111.2" r="0.8" fill="#4a90d0"/>
<circle cx="1698.3" cy="115.5" r="0.8" fill="#5bb8c0"/>
<circle cx="1698.8" cy="118.7" r="0.8" fill="#4a90d0"/>
<circle cx="1687" cy="123.6" r="0.8" fill="#4a90d0"/>
<circle cx="1697.3" cy="121.2" r="0.8" fill="#f0b070"/>
<circle cx="1712.8" cy="123" r="0.8" fill="#f0b070"/>
<circle cx="1692.9" cy="115.2" r="0.8" fill="#4a90d0"/>
<circle cx="1688" cy="123.2" r="0.8" fill="#4a90d0"/>
<circle cx="1714.9" cy="122.5" r="0.8" fill="#5bb8c0"/>
<circle cx="1704.5" cy="114.4" r="0.8" fill="#4a90d0"/>
<circle cx="1715.9" cy="114.4" r="0.8" fill="#5bb8c0"/>
<circle cx="1715.2" cy="121.5" r="0.8" fill="#e89090"/>
<circle cx="1697.3" cy="124.8" r="0.8" fill="#e89090"/>
<circle cx="1705.5" cy="119.7" r="0.8" fill="#f0b070"/>
<circle cx="1688.8" cy="127.7" r="0.8" fill="#f0b070"/>
<circle cx="1694" cy="122.5" r="0.8" fill="#7ab0e0"/>
<circle cx="1693" cy="118.5" r="0.8" fill="#5bb8c0"/>
<circle cx="1701.7" cy="119.8" r="0.8" fill="#4a90d0"/>
<circle cx="1710" cy="123.7" r="0.8" fill="#5bb8c0"/>
<circle cx="1686.3" cy="123.8" r="0.8" fill="#7ab0e0"/>
<circle cx="1689.8" cy="123.3" r="0.8" fill="#5bb8c0"/>
<path d="M1698.8 136.1h6.3" stroke="#e0a0a0" stroke-width="0.9"/>
<rect x="1715.9" y="128.7" width="9.2" height="6.6" fill="#3a88c8"/><rect x="1726.1" y="127.7" width="8.6" height="7.6" fill="#e0583c"/>
<rect x="1715.9" y="136.3" width="9.2" height="7.2" fill="#e0583c"/><rect x="1726.1" y="136.3" width="8.6" height="7.2" fill="#3a88c8"/>
<path d="M1715.9 132.7l9.2 -2.5M1726.1 140.7l8.6 -3" stroke="#f0e8e0" stroke-width="0.9"/>
<path d="M1716.9 127.5C1719.9 124.7 1729.9 124.7 1733.9 126.7" fill="none" stroke="#c4c4c4" stroke-width="0.7"/>
<path d="M1718.8 146.4v1.6M1730.2 146.4v1.6" stroke="#c8c8c8" stroke-width="1.2"/>
<path d="M1740.5 131.6V148.1H1757.6" fill="none" stroke="#a9a9a9" stroke-width="0.9"/>
<ellipse cx="1750.2" cy="139.6" rx="9.5" ry="3.6" fill="#9ccc3c" transform="rotate(-50 1750.2 139.6)"/>
<ellipse cx="1748.4" cy="141.3" rx="6.2" ry="2.4" fill="#f0d030" transform="rotate(-50 1748.4 141.3)"/>
<ellipse cx="1747.1" cy="142.6" rx="3.6" ry="1.7" fill="#c83228" transform="rotate(-50 1747.1 142.6)"/>
<path d="M1742.7 124.2h12.6" stroke="#cfcfcf" stroke-width="0.9"/>
</g>
</g>
<g id="B">
<path d="M138.7 298 V726.2 H849.5" fill="none" stroke="#000" stroke-width="2.2"/>
<path d="M130.1 303.9H138.7M122.7 347.8H138.7M130.1 392.2H138.7M130.1 435.3H138.7M130.1 480.5H138.7M122.7 523.1H138.7M130.1 566.6H138.7M130.1 610.6H138.7M130.1 653.7H138.7M122.7 696.7H138.7M143.9 726.2V734.8M189.5 726.2V734.8M233.9 726.2V742.2M279.1 726.2V734.8M324.3 726.2V734.8M371.3 726.2V734.8M417 726.2V734.8M462.2 726.2V742.2M508.3 726.2V734.8M553.1 726.2V734.8M597.9 726.2V734.8M643.1 726.2V734.8M688.3 726.2V742.2M733.5 726.2V734.8M780.5 726.2V734.8M826.2 726.2V734.8" stroke="#000" stroke-width="2" fill="none"/>
<text transform="translate(118 347.8) rotate(-90)" text-anchor="middle" font-size="28.5" fill="#1a1a1a">2</text>
<text transform="translate(118 523.1) rotate(-90)" text-anchor="middle" font-size="28.5" fill="#1a1a1a">0</text>
<text transform="translate(118 700.5) rotate(-90)" text-anchor="middle" font-size="28.5" fill="#1a1a1a">−2</text>
<text x="232" y="769" font-size="28.5" fill="#1a1a1a" text-anchor="middle" >−5</text>
<text x="462.2" y="769" font-size="28.5" fill="#1a1a1a" text-anchor="middle" >0</text>
<text x="688.3" y="769" font-size="28.5" fill="#1a1a1a" text-anchor="middle" >5</text>
<text x="305.8" y="803.6" font-size="29.6" fill="#1a1a1a" textLength="376" lengthAdjust="spacingAndGlyphs" >Component 1 (84.9%) [1e7]</text>
<text transform="translate(69.5 688.5) rotate(-90)" font-size="29.4" fill="#1a1a1a" textLength="355.5" lengthAdjust="spacingAndGlyphs">Component 2 (8.2%) [1e7]</text>
<circle cx="417.4" cy="337.9" r="9" fill="#ff0a0a"/><circle cx="485" cy="315.1" r="9" fill="#ff0a0a"/>
<path d="M424.9 352.4L430.4 346.4V364" stroke="#ff1e28" stroke-width="2.3" fill="none" stroke-linejoin="miter"/>
<text x="488" y="341.4" font-size="26.5" fill="#ff1e28" >2</text>
<path d="M358.4 393.1H375.6M367 384.5V401.7" stroke="#ff0a0a" stroke-width="2.7" fill="none"/>
<path d="M359.1 385.2L374.9 401M359.1 401L374.9 385.2" stroke="#ff0a0a" stroke-width="1.5" fill="none"/>
<path d="M396.3 423.2H413.5M404.9 414.6V431.8" stroke="#ff0a0a" stroke-width="2.7" fill="none"/>
<path d="M397 415.3L412.8 431.1M397 431.1L412.8 415.3" stroke="#ff0a0a" stroke-width="1.5" fill="none"/>
<text x="371" y="419" font-size="26.5" fill="#ff1e28" >6</text>
<text x="409" y="448" font-size="26.5" fill="#ff1e28" >7</text>
<rect x="740.1" y="509.6" width="17" height="2.2" fill="#1414ff"/>
<rect x="772.4" y="572.9" width="17" height="2.2" fill="#1414ff"/>
<rect x="809.9" y="695.6" width="17" height="2.2" fill="#1414ff"/>
<text x="759.5" y="544" font-size="26.5" fill="#2828ff" >5</text>
<text x="785.5" y="606.5" font-size="26.5" fill="#2828ff" >3</text>
<clipPath id="cb4"><rect x="800" y="690" width="60" height="35.2"/></clipPath>
<text x="822" y="730.5" font-size="26.5" fill="#2828ff" clip-path="url(#cb4)">4</text>
<rect x="173.3" y="640.8" width="17.2" height="17" fill="#0000ff"/>
<rect x="165.5" y="653.7" width="17.2" height="17" fill="#0000ff"/>
<rect x="230.9" y="640.8" width="17.2" height="17" fill="#0000ff"/>
<text x="188.5" y="675.3" font-size="26.5" fill="#3c3cff" >10</text>
<text x="178" y="687.3" font-size="26.5" fill="#3c3cff" >8</text>
<text x="244.3" y="675.3" font-size="26.5" fill="#3c3cff" >9</text>
</g>
<g id="C">
<path d="M943.5 268.5V919.7H1258.6" fill="none" stroke="#4a4a4a" stroke-width="1.5"/>
<path d="M934.8 889.2H943.5M934.8 810.4H943.5M934.8 731.6H943.5M934.8 652.8H943.5M934.8 574H943.5M934.8 495.2H943.5M934.8 416.4H943.5M934.8 337.6H943.5M1042.8 919.7V926.7M1157 919.7V926.7" stroke="#4a4a4a" stroke-width="1.2" fill="none"/>
<text transform="translate(932.5 889.2) rotate(-90)" text-anchor="middle" font-size="11" fill="#444">0</text>
<text transform="translate(932.5 810.4) rotate(-90)" text-anchor="middle" font-size="11" fill="#444">1</text>
<text transform="translate(932.5 731.6) rotate(-90)" text-anchor="middle" font-size="11" fill="#444">2</text>
<text transform="translate(932.5 652.8) rotate(-90)" text-anchor="middle" font-size="11" fill="#444">3</text>
<text transform="translate(932.5 574) rotate(-90)" text-anchor="middle" font-size="11" fill="#444">4</text>
<text transform="translate(932.5 495.2) rotate(-90)" text-anchor="middle" font-size="11" fill="#444">5</text>
<text transform="translate(932.5 416.4) rotate(-90)" text-anchor="middle" font-size="11" fill="#444">6</text>
<text transform="translate(932.5 337.6) rotate(-90)" text-anchor="middle" font-size="11" fill="#444">7</text>
<text x="1042.8" y="938.2" font-size="11.5" fill="#333" text-anchor="middle" >0</text>
<text x="1157" y="938.2" font-size="11.5" fill="#333" text-anchor="middle" >2</text>
<text x="1015.1" y="952.7" font-size="12.4" fill="#222" textLength="171.6" lengthAdjust="spacingAndGlyphs" >Difference (cypin-GFP – GFP)</text>
<text transform="translate(915 615.5) rotate(-90)" font-size="12.4" fill="#222" textLength="43" lengthAdjust="spacingAndGlyphs">−Log <tspan font-style="italic">P</tspan></text>
<path d="M1041.8 893.5L1036.1 889L1033.1 883L1030.1 877L1027.6 865L1026.4 850L1026 830L1026.4 810L1028.1 795L1030.4 771L1031.4 750L1032.2 731L1033.4 716L1035.1 700L1037.1 690L1040.1 682L1045.1 682L1048.1 690L1050.1 700L1051.8 716L1053 731L1053.8 750L1054.8 771L1057.1 795L1058.8 810L1059.2 830L1058.8 850L1057.6 865L1055.1 877L1052.1 883L1049.1 889L1043.4 893.5Z" fill="#b9b9b9" stroke="#b9b9b9" stroke-width="1.5" stroke-linejoin="round"/>
<path d="M1024.4 829.3h4.6v4.6h-4.6zM1031.1 879.6h4.6v4.6h-4.6zM1031.7 877.9h4.6v4.6h-4.6zM1025.4 809.2h4.6v4.6h-4.6zM1024.9 787.7h4.6v4.6h-4.6zM1025.5 865.8h4.6v4.6h-4.6zM1026.6 781.9h4.6v4.6h-4.6zM1026.2 816h4.6v4.6h-4.6zM1050.3 731.5h4.6v4.6h-4.6zM1054.6 789.6h4.6v4.6h-4.6zM1028.1 763.8h4.6v4.6h-4.6zM1050.7 771.7h4.6v4.6h-4.6zM1028.2 758.3h4.6v4.6h-4.6zM1056.5 797.7h4.6v4.6h-4.6zM1055.2 803.4h4.6v4.6h-4.6zM1023.2 843.1h4.6v4.6h-4.6zM1056.5 843.9h4.6v4.6h-4.6zM1049.5 728.5h4.6v4.6h-4.6zM1031.7 709.3h4.6v4.6h-4.6zM1053.9 858.3h4.6v4.6h-4.6zM1023.1 799.1h4.6v4.6h-4.6zM1052 874.3h4.6v4.6h-4.6zM1057.1 824.5h4.6v4.6h-4.6zM1022.5 805.1h4.6v4.6h-4.6zM1027 801.8h4.6v4.6h-4.6zM1050.9 760.2h4.6v4.6h-4.6zM1054.3 817.9h4.6v4.6h-4.6zM1024.1 804.1h4.6v4.6h-4.6zM1024.1 798.2h4.6v4.6h-4.6zM1026.4 864.8h4.6v4.6h-4.6zM1048 720.9h4.6v4.6h-4.6zM1058 806.4h4.6v4.6h-4.6zM1051.9 738.7h4.6v4.6h-4.6zM1050.9 708.1h4.6v4.6h-4.6zM1026.9 860.9h4.6v4.6h-4.6zM1028.3 768.1h4.6v4.6h-4.6zM1052.5 780.8h4.6v4.6h-4.6zM1055.7 861.8h4.6v4.6h-4.6zM1023 830.2h4.6v4.6h-4.6zM1026 794.2h4.6v4.6h-4.6zM1050.1 729.2h4.6v4.6h-4.6zM1057.2 816.4h4.6v4.6h-4.6zM1026.9 877.1h4.6v4.6h-4.6zM1025 807.9h4.6v4.6h-4.6zM1029.7 878.9h4.6v4.6h-4.6zM1055 790.4h4.6v4.6h-4.6zM1027.9 875.6h4.6v4.6h-4.6zM1057.4 861.3h4.6v4.6h-4.6zM1051.5 778.4h4.6v4.6h-4.6zM1050.7 733.3h4.6v4.6h-4.6zM1025.8 831.5h4.6v4.6h-4.6zM1056.6 825.8h4.6v4.6h-4.6zM1030 762h4.6v4.6h-4.6zM1047.7 714.4h4.6v4.6h-4.6zM1025.1 789.2h4.6v4.6h-4.6zM1023.1 834h4.6v4.6h-4.6zM1058.4 840.7h4.6v4.6h-4.6zM1023.8 823.4h4.6v4.6h-4.6zM1051.9 746.1h4.6v4.6h-4.6zM1026.1 776.4h4.6v4.6h-4.6zM1031 738.9h4.6v4.6h-4.6zM1023 798.4h4.6v4.6h-4.6zM1050.1 744h4.6v4.6h-4.6zM1051.8 761.9h4.6v4.6h-4.6zM1051.8 717.2h4.6v4.6h-4.6zM1025.8 821.8h4.6v4.6h-4.6zM1054.4 802.5h4.6v4.6h-4.6zM1027.8 774.4h4.6v4.6h-4.6zM1026.6 769.1h4.6v4.6h-4.6zM1055.7 866.6h4.6v4.6h-4.6zM1053.4 751.3h4.6v4.6h-4.6zM1054.4 809.1h4.6v4.6h-4.6zM1049.3 715.5h4.6v4.6h-4.6zM1028 752.6h4.6v4.6h-4.6zM1027.2 857.4h4.6v4.6h-4.6zM1054.9 780.5h4.6v4.6h-4.6zM1056 861.8h4.6v4.6h-4.6zM1026.2 824.4h4.6v4.6h-4.6zM1029.4 742.3h4.6v4.6h-4.6zM1052 717.8h4.6v4.6h-4.6zM1026.9 852.9h4.6v4.6h-4.6zM1023.2 849.6h4.6v4.6h-4.6zM1058.3 828.9h4.6v4.6h-4.6zM1053.2 877.3h4.6v4.6h-4.6zM1053.8 767.4h4.6v4.6h-4.6zM1030 727.9h4.6v4.6h-4.6zM1024.2 792.8h4.6v4.6h-4.6zM1028 746.5h4.6v4.6h-4.6zM1025.4 861.1h4.6v4.6h-4.6zM1029.7 755.9h4.6v4.6h-4.6zM1056.1 793.7h4.6v4.6h-4.6zM1028 869.1h4.6v4.6h-4.6zM1024 837.9h4.6v4.6h-4.6zM1026.9 785.8h4.6v4.6h-4.6zM1026.6 776.5h4.6v4.6h-4.6zM1056.2 805.8h4.6v4.6h-4.6zM1058.4 843.2h4.6v4.6h-4.6zM1028.7 725.3h4.6v4.6h-4.6zM1026.1 863.4h4.6v4.6h-4.6zM1024.2 830.7h4.6v4.6h-4.6zM1057.5 849.6h4.6v4.6h-4.6zM1028.3 724.5h4.6v4.6h-4.6zM1050.9 770.8h4.6v4.6h-4.6zM1049.1 727.1h4.6v4.6h-4.6zM1051.2 714.3h4.6v4.6h-4.6zM1026.7 858.7h4.6v4.6h-4.6zM1055.6 809.6h4.6v4.6h-4.6zM1054 852.7h4.6v4.6h-4.6zM1056.9 821.6h4.6v4.6h-4.6zM1024.8 808h4.6v4.6h-4.6zM1054.8 793.9h4.6v4.6h-4.6zM1026.7 876.7h4.6v4.6h-4.6zM1052.7 869.3h4.6v4.6h-4.6zM1031.6 722.9h4.6v4.6h-4.6zM1056.4 864.8h4.6v4.6h-4.6zM1051.7 764.9h4.6v4.6h-4.6zM1055.4 790.4h4.6v4.6h-4.6zM1026 872.1h4.6v4.6h-4.6zM1025.9 855h4.6v4.6h-4.6zM1031.9 885.4h4.6v4.6h-4.6zM1029.7 873.2h4.6v4.6h-4.6zM1048.3 730.7h4.6v4.6h-4.6zM1050.6 706.7h4.6v4.6h-4.6zM1026.2 839.5h4.6v4.6h-4.6zM1026.5 758.8h4.6v4.6h-4.6zM1025.5 840.6h4.6v4.6h-4.6zM1056.8 831.4h4.6v4.6h-4.6zM1056.1 850.8h4.6v4.6h-4.6zM1057.1 856h4.6v4.6h-4.6zM1034.3 706.7h4.6v4.6h-4.6zM1028.9 754.5h4.6v4.6h-4.6zM1054.6 843.6h4.6v4.6h-4.6zM1051.7 738.8h4.6v4.6h-4.6zM1056.5 788.7h4.6v4.6h-4.6zM1021.7 832.2h4.6v4.6h-4.6zM1024.3 825.8h4.6v4.6h-4.6zM1022.3 824.9h4.6v4.6h-4.6zM1046.7 885.9h4.6v4.6h-4.6zM1052.6 878.3h4.6v4.6h-4.6zM1052.7 765.9h4.6v4.6h-4.6zM1028.8 761.8h4.6v4.6h-4.6zM1053.1 859.7h4.6v4.6h-4.6zM1058.9 821.9h4.6v4.6h-4.6zM1028.5 788.5h4.6v4.6h-4.6zM1030.8 727.2h4.6v4.6h-4.6zM1042.7 888.3h4.6v4.6h-4.6zM1025.2 837.5h4.6v4.6h-4.6zM1030.4 746.6h4.6v4.6h-4.6zM1053.6 872.1h4.6v4.6h-4.6zM1055.6 816.5h4.6v4.6h-4.6zM1023.5 845.9h4.6v4.6h-4.6zM1053.1 757.6h4.6v4.6h-4.6zM1050.1 756.7h4.6v4.6h-4.6zM1031 756.1h4.6v4.6h-4.6zM1051.9 735.8h4.6v4.6h-4.6zM1027.6 740h4.6v4.6h-4.6zM1027.6 750.8h4.6v4.6h-4.6zM1029 781.7h4.6v4.6h-4.6zM1051.7 880.8h4.6v4.6h-4.6zM1056.9 819.6h4.6v4.6h-4.6zM1027.8 773.7h4.6v4.6h-4.6zM1034.3 887.9h4.6v4.6h-4.6zM1024.8 796.5h4.6v4.6h-4.6zM1050.6 876.4h4.6v4.6h-4.6zM1051.3 874.9h4.6v4.6h-4.6zM1028 750.2h4.6v4.6h-4.6zM1050.6 710.1h4.6v4.6h-4.6zM1054 874.4h4.6v4.6h-4.6zM1029.6 775.7h4.6v4.6h-4.6zM1056 861.5h4.6v4.6h-4.6zM1030.9 761.8h4.6v4.6h-4.6zM1053.5 877.4h4.6v4.6h-4.6zM1026.2 870.3h4.6v4.6h-4.6zM1056.4 835.3h4.6v4.6h-4.6zM1022.4 803.2h4.6v4.6h-4.6zM1056.5 788.1h4.6v4.6h-4.6zM1031.9 717.3h4.6v4.6h-4.6zM1055 874.5h4.6v4.6h-4.6zM1026 817.8h4.6v4.6h-4.6zM1055.3 872h4.6v4.6h-4.6zM1056.6 864.2h4.6v4.6h-4.6zM1028.7 759.9h4.6v4.6h-4.6zM1048.3 728.3h4.6v4.6h-4.6zM1046.1 887.8h4.6v4.6h-4.6zM1024.5 814.4h4.6v4.6h-4.6zM1022.4 819.7h4.6v4.6h-4.6zM1046.4 888.2h4.6v4.6h-4.6zM1025.2 866.5h4.6v4.6h-4.6zM1049 723.7h4.6v4.6h-4.6zM1054 876.6h4.6v4.6h-4.6zM1055.5 780.8h4.6v4.6h-4.6zM1030.2 750.3h4.6v4.6h-4.6zM1051.1 879h4.6v4.6h-4.6zM1055 861.3h4.6v4.6h-4.6zM1058 830.8h4.6v4.6h-4.6zM1022.7 810.3h4.6v4.6h-4.6zM1026.8 773.1h4.6v4.6h-4.6zM1050.1 879.4h4.6v4.6h-4.6zM1051.4 750.9h4.6v4.6h-4.6zM1032.2 721.8h4.6v4.6h-4.6zM1055.5 812.6h4.6v4.6h-4.6zM1051.2 753.4h4.6v4.6h-4.6zM1056.7 844.8h4.6v4.6h-4.6zM1023.4 816.4h4.6v4.6h-4.6zM1052.9 874.7h4.6v4.6h-4.6zM1058.5 805.7h4.6v4.6h-4.6zM1024.2 806.2h4.6v4.6h-4.6zM1024.9 843.9h4.6v4.6h-4.6zM1028 871.8h4.6v4.6h-4.6zM1027.7 740.5h4.6v4.6h-4.6zM1051 751.4h4.6v4.6h-4.6zM1029.6 752.1h4.6v4.6h-4.6zM1023.9 826.6h4.6v4.6h-4.6zM1052 783.5h4.6v4.6h-4.6zM1027.4 796.4h4.6v4.6h-4.6zM1049.7 724.5h4.6v4.6h-4.6zM1057.9 807h4.6v4.6h-4.6zM1031.8 728.9h4.6v4.6h-4.6zM1058.6 810.7h4.6v4.6h-4.6zM1025.8 798.9h4.6v4.6h-4.6zM1052 719h4.6v4.6h-4.6zM1025.5 843.1h4.6v4.6h-4.6zM1023.2 860.7h4.6v4.6h-4.6zM1049.8 756.5h4.6v4.6h-4.6zM1028 746.5h4.6v4.6h-4.6zM1023.5 846h4.6v4.6h-4.6zM1023.4 832.9h4.6v4.6h-4.6zM1055.5 791.9h4.6v4.6h-4.6zM1027.5 868h4.6v4.6h-4.6zM1031.6 716h4.6v4.6h-4.6zM1026.5 847.6h4.6v4.6h-4.6zM1055.6 833.4h4.6v4.6h-4.6zM1024 830.6h4.6v4.6h-4.6zM1026.4 845.6h4.6v4.6h-4.6zM1054.4 813.2h4.6v4.6h-4.6zM1054 853h4.6v4.6h-4.6zM1058.4 846.8h4.6v4.6h-4.6zM1023.3 847h4.6v4.6h-4.6zM1052.7 757.2h4.6v4.6h-4.6zM1057.1 852.3h4.6v4.6h-4.6zM1025.6 796.2h4.6v4.6h-4.6zM1025.8 851.8h4.6v4.6h-4.6zM1054.5 848h4.6v4.6h-4.6zM1025.8 774.5h4.6v4.6h-4.6zM1023 799.8h4.6v4.6h-4.6zM1053.1 861.7h4.6v4.6h-4.6zM1033.1 884.2h4.6v4.6h-4.6zM1029.2 758.7h4.6v4.6h-4.6zM1051.3 724.3h4.6v4.6h-4.6zM1032.9 706.1h4.6v4.6h-4.6zM1053.6 854.6h4.6v4.6h-4.6zM1053.9 767h4.6v4.6h-4.6zM1047.2 708.4h4.6v4.6h-4.6zM1043.1 888h4.6v4.6h-4.6zM1023.9 811.7h4.6v4.6h-4.6zM1050.8 749.8h4.6v4.6h-4.6zM1049 738.3h4.6v4.6h-4.6zM1029.3 759.5h4.6v4.6h-4.6zM1031.5 720.4h4.6v4.6h-4.6zM1049.4 753.7h4.6v4.6h-4.6zM1054.3 813.4h4.6v4.6h-4.6zM1030.2 882.1h4.6v4.6h-4.6zM1028 877.1h4.6v4.6h-4.6zM1049.5 724.2h4.6v4.6h-4.6zM1025 827.2h4.6v4.6h-4.6zM1053.8 757.5h4.6v4.6h-4.6zM1026.2 834.1h4.6v4.6h-4.6zM1057.4 845.7h4.6v4.6h-4.6zM1057.2 803.3h4.6v4.6h-4.6zM1048.2 721.5h4.6v4.6h-4.6zM1024 797.7h4.6v4.6h-4.6zM1028.5 753.5h4.6v4.6h-4.6zM1056.5 828.5h4.6v4.6h-4.6zM1029.3 745.2h4.6v4.6h-4.6zM1025.3 816.9h4.6v4.6h-4.6zM1029 876.6h4.6v4.6h-4.6zM1024.1 788.9h4.6v4.6h-4.6zM1031.3 727h4.6v4.6h-4.6zM1028 873.1h4.6v4.6h-4.6zM1047.2 707.8h4.6v4.6h-4.6zM1055.4 864.2h4.6v4.6h-4.6zM1027.1 765.2h4.6v4.6h-4.6zM1056.9 834.7h4.6v4.6h-4.6zM1055.2 820.3h4.6v4.6h-4.6zM1025.4 843.2h4.6v4.6h-4.6zM1024.9 837h4.6v4.6h-4.6zM1024 816.1h4.6v4.6h-4.6zM1023.5 846.2h4.6v4.6h-4.6zM1034.3 707.3h4.6v4.6h-4.6zM1028.6 727.1h4.6v4.6h-4.6zM1028.9 721.3h4.6v4.6h-4.6zM1025.7 845.9h4.6v4.6h-4.6zM1029.6 710.6h4.6v4.6h-4.6zM1024.2 820.4h4.6v4.6h-4.6zM1026 841h4.6v4.6h-4.6zM1052.1 779.5h4.6v4.6h-4.6zM1026.1 821.1h4.6v4.6h-4.6zM1031.6 705.7h4.6v4.6h-4.6zM1026.7 769.3h4.6v4.6h-4.6zM1051.8 738.8h4.6v4.6h-4.6zM1053.8 854.6h4.6v4.6h-4.6zM1048.9 882.7h4.6v4.6h-4.6zM1027.7 876.9h4.6v4.6h-4.6zM1027.7 767.1h4.6v4.6h-4.6zM1027.8 871.8h4.6v4.6h-4.6zM1057.3 838.9h4.6v4.6h-4.6zM1025 812.1h4.6v4.6h-4.6zM1053.5 784.9h4.6v4.6h-4.6zM1048.1 885.1h4.6v4.6h-4.6zM1055.1 817h4.6v4.6h-4.6zM1035.2 887.4h4.6v4.6h-4.6zM1051.3 738.5h4.6v4.6h-4.6zM1025.7 821.8h4.6v4.6h-4.6zM1029.5 879h4.6v4.6h-4.6zM1030.2 722.2h4.6v4.6h-4.6zM1032.5 719h4.6v4.6h-4.6zM1022 836.7h4.6v4.6h-4.6zM1055.1 868.6h4.6v4.6h-4.6zM1030.4 743.7h4.6v4.6h-4.6zM1027.5 735.4h4.6v4.6h-4.6zM1024.6 800.2h4.6v4.6h-4.6zM1026 772.1h4.6v4.6h-4.6zM1027 775.1h4.6v4.6h-4.6zM1051.2 731.9h4.6v4.6h-4.6zM1054.5 852.6h4.6v4.6h-4.6zM1058.3 848.6h4.6v4.6h-4.6zM1053.6 859.9h4.6v4.6h-4.6zM1026.3 843.3h4.6v4.6h-4.6zM1025.8 785.7h4.6v4.6h-4.6zM1057.2 829.2h4.6v4.6h-4.6zM1054.9 787.9h4.6v4.6h-4.6zM1024.3 832.1h4.6v4.6h-4.6zM1052.3 768h4.6v4.6h-4.6zM1024.3 855.8h4.6v4.6h-4.6zM1025.5 799h4.6v4.6h-4.6zM1054.6 775.4h4.6v4.6h-4.6zM1049.2 740.3h4.6v4.6h-4.6zM1054 865h4.6v4.6h-4.6zM1031.7 741.8h4.6v4.6h-4.6zM1056 864.7h4.6v4.6h-4.6zM1024.5 795h4.6v4.6h-4.6zM1032.6 724.9h4.6v4.6h-4.6zM1030.2 876.3h4.6v4.6h-4.6zM1047.9 709h4.6v4.6h-4.6zM1028.7 740.2h4.6v4.6h-4.6zM1030.9 756.7h4.6v4.6h-4.6zM1055.1 824.3h4.6v4.6h-4.6zM1052.1 724.6h4.6v4.6h-4.6zM1056.1 805h4.6v4.6h-4.6zM1030.3 720.3h4.6v4.6h-4.6zM1028.4 775.9h4.6v4.6h-4.6zM1031.9 881.7h4.6v4.6h-4.6zM1053.5 772.1h4.6v4.6h-4.6zM1029 724.8h4.6v4.6h-4.6zM1023.5 840.2h4.6v4.6h-4.6zM1056.9 822.7h4.6v4.6h-4.6zM1028.1 782.4h4.6v4.6h-4.6zM1055.6 790.5h4.6v4.6h-4.6zM1058.9 820.6h4.6v4.6h-4.6zM1052.9 782.9h4.6v4.6h-4.6zM1029.2 873.6h4.6v4.6h-4.6zM1030 752.5h4.6v4.6h-4.6zM1055.5 794.1h4.6v4.6h-4.6zM1049.9 708.6h4.6v4.6h-4.6zM1030.7 751.9h4.6v4.6h-4.6zM1052.6 775.9h4.6v4.6h-4.6zM1025.7 821.9h4.6v4.6h-4.6zM1026.5 846.9h4.6v4.6h-4.6zM1044.1 888h4.6v4.6h-4.6zM1026.3 792.8h4.6v4.6h-4.6zM1025.4 833.4h4.6v4.6h-4.6zM1051.3 774.4h4.6v4.6h-4.6zM1032.6 885.9h4.6v4.6h-4.6zM1023.8 806.1h4.6v4.6h-4.6zM1050.1 729.2h4.6v4.6h-4.6zM1026.2 840.2h4.6v4.6h-4.6zM1051.4 738.4h4.6v4.6h-4.6zM1052.5 782.7h4.6v4.6h-4.6zM1032.5 723.3h4.6v4.6h-4.6zM1033.8 883.9h4.6v4.6h-4.6zM1031.8 877.8h4.6v4.6h-4.6zM1028.1 787.8h4.6v4.6h-4.6zM1057.5 852h4.6v4.6h-4.6zM1053.6 856.5h4.6v4.6h-4.6zM1053.9 774h4.6v4.6h-4.6zM1047 887.3h4.6v4.6h-4.6zM1054.3 803.4h4.6v4.6h-4.6zM1047.3 706.3h4.6v4.6h-4.6zM1051.1 881.4h4.6v4.6h-4.6zM1050.8 719.3h4.6v4.6h-4.6zM1057.4 839.8h4.6v4.6h-4.6zM1049 720.8h4.6v4.6h-4.6zM1032.8 718.7h4.6v4.6h-4.6zM1026.7 795.7h4.6v4.6h-4.6zM1022.1 845.3h4.6v4.6h-4.6zM1050.1 752.1h4.6v4.6h-4.6zM1024.6 817.4h4.6v4.6h-4.6zM1050.6 732.7h4.6v4.6h-4.6zM1024.4 791.5h4.6v4.6h-4.6zM1023.9 808.5h4.6v4.6h-4.6zM1024.4 832.2h4.6v4.6h-4.6zM1028.7 781.5h4.6v4.6h-4.6zM1031.8 883.6h4.6v4.6h-4.6zM1024.2 858.9h4.6v4.6h-4.6zM1031.1 882.8h4.6v4.6h-4.6zM1026.8 772.6h4.6v4.6h-4.6zM1050.4 876.5h4.6v4.6h-4.6zM1029.4 714h4.6v4.6h-4.6zM1049.6 750.3h4.6v4.6h-4.6zM1026.7 850.9h4.6v4.6h-4.6zM1029.6 714.9h4.6v4.6h-4.6zM1052.7 773h4.6v4.6h-4.6zM1026.7 864.2h4.6v4.6h-4.6zM1054.5 827h4.6v4.6h-4.6zM1054.4 841.5h4.6v4.6h-4.6zM1052.7 749.6h4.6v4.6h-4.6zM1054.9 778.4h4.6v4.6h-4.6zM1026.2 775.4h4.6v4.6h-4.6zM1032.7 882.8h4.6v4.6h-4.6zM1027.7 759.7h4.6v4.6h-4.6zM1049.4 737.1h4.6v4.6h-4.6zM1036.9 888.2h4.6v4.6h-4.6zM1031.4 751.3h4.6v4.6h-4.6zM1056.3 798.7h4.6v4.6h-4.6zM1051.4 737.6h4.6v4.6h-4.6zM1049.7 713.5h4.6v4.6h-4.6zM1023.1 859.4h4.6v4.6h-4.6zM1026.1 846.1h4.6v4.6h-4.6zM1028 772.1h4.6v4.6h-4.6zM1031.3 707.3h4.6v4.6h-4.6zM1058.7 823.5h4.6v4.6h-4.6zM1030.7 725.4h4.6v4.6h-4.6zM1051.1 770.4h4.6v4.6h-4.6zM1024.7 840.4h4.6v4.6h-4.6zM1028.1 726.9h4.6v4.6h-4.6zM1026.7 865.3h4.6v4.6h-4.6zM1022.1 828.8h4.6v4.6h-4.6zM1054.6 806.2h4.6v4.6h-4.6zM1056.7 808.3h4.6v4.6h-4.6zM1055.3 865.4h4.6v4.6h-4.6zM1029.7 761.1h4.6v4.6h-4.6zM1028.1 750.5h4.6v4.6h-4.6zM1049.5 710.3h4.6v4.6h-4.6zM1024.7 824.7h4.6v4.6h-4.6zM1026.3 853.9h4.6v4.6h-4.6zM1028.8 768.2h4.6v4.6h-4.6zM1049.9 708.6h4.6v4.6h-4.6zM1026.1 809h4.6v4.6h-4.6zM1048.6 721.9h4.6v4.6h-4.6zM1026.3 817.5h4.6v4.6h-4.6zM1051.6 732.3h4.6v4.6h-4.6zM1055 797h4.6v4.6h-4.6zM1052.8 862.6h4.6v4.6h-4.6zM1057.4 844.2h4.6v4.6h-4.6zM1055.2 781.1h4.6v4.6h-4.6zM1027.5 766.4h4.6v4.6h-4.6zM1052.3 771.2h4.6v4.6h-4.6zM1022.3 841h4.6v4.6h-4.6zM1057.4 844.2h4.6v4.6h-4.6zM1054.4 773.4h4.6v4.6h-4.6zM1024.5 800.2h4.6v4.6h-4.6zM1022.3 813.6h4.6v4.6h-4.6zM1024.4 828.5h4.6v4.6h-4.6zM1027.4 798.9h4.6v4.6h-4.6zM1025.3 789.1h4.6v4.6h-4.6zM1031.1 714.6h4.6v4.6h-4.6zM1053.8 870h4.6v4.6h-4.6zM1028.1 757.3h4.6v4.6h-4.6zM1050.5 736.9h4.6v4.6h-4.6zM1028.8 715.2h4.6v4.6h-4.6zM1023.7 854.9h4.6v4.6h-4.6zM1028.7 776.2h4.6v4.6h-4.6zM1026.3 818.7h4.6v4.6h-4.6zM1057 812h4.6v4.6h-4.6zM1050.3 765.1h4.6v4.6h-4.6zM1058.7 833h4.6v4.6h-4.6zM1023.7 792.1h4.6v4.6h-4.6zM1047.9 712.8h4.6v4.6h-4.6zM1024.4 864.8h4.6v4.6h-4.6zM1053.4 772.5h4.6v4.6h-4.6zM1029.5 756.7h4.6v4.6h-4.6zM1052.5 771.7h4.6v4.6h-4.6zM1022.7 834.7h4.6v4.6h-4.6zM1025.9 802.7h4.6v4.6h-4.6zM1058.9 819.7h4.6v4.6h-4.6zM1049.8 764.4h4.6v4.6h-4.6zM1051.1 756.5h4.6v4.6h-4.6zM1052.3 768.8h4.6v4.6h-4.6zM1023.5 810.1h4.6v4.6h-4.6zM1058.3 822.2h4.6v4.6h-4.6zM1052.3 878h4.6v4.6h-4.6zM1055.8 862.8h4.6v4.6h-4.6zM1034.8 885.7h4.6v4.6h-4.6zM1051.2 875.3h4.6v4.6h-4.6zM1025.3 869.9h4.6v4.6h-4.6zM1055.1 854.5h4.6v4.6h-4.6zM1056.7 860.6h4.6v4.6h-4.6zM1024.3 857.8h4.6v4.6h-4.6zM1048.8 725.1h4.6v4.6h-4.6zM1027.4 761.8h4.6v4.6h-4.6zM1024 808.3h4.6v4.6h-4.6zM1022.6 840.1h4.6v4.6h-4.6zM1025 802h4.6v4.6h-4.6zM1048.9 722.9h4.6v4.6h-4.6zM1026.7 858.4h4.6v4.6h-4.6zM1057.5 829.8h4.6v4.6h-4.6zM1050.5 734.8h4.6v4.6h-4.6zM1033.6 705.7h4.6v4.6h-4.6zM1026.2 822.6h4.6v4.6h-4.6zM1051.4 880.1h4.6v4.6h-4.6zM1053.3 871.3h4.6v4.6h-4.6zM1031.7 724.4h4.6v4.6h-4.6zM1024.9 812.5h4.6v4.6h-4.6zM1049.9 730.9h4.6v4.6h-4.6zM1030.3 746.1h4.6v4.6h-4.6zM1057 826h4.6v4.6h-4.6zM1050.2 737.3h4.6v4.6h-4.6zM1055.3 798.2h4.6v4.6h-4.6zM1058.8 838.8h4.6v4.6h-4.6zM1029 768.8h4.6v4.6h-4.6zM1037.4 677.7h4.6v4.6h-4.6zM1042.7 640.5h4.6v4.6h-4.6zM1034.3 613.3h4.6v4.6h-4.6zM1032.6 680h4.6v4.6h-4.6zM1047.6 695.2h4.6v4.6h-4.6zM1043.1 637.5h4.6v4.6h-4.6zM1046.7 612.6h4.6v4.6h-4.6zM1042.6 636.4h4.6v4.6h-4.6zM1042.2 625.4h4.6v4.6h-4.6zM1043.3 692.1h4.6v4.6h-4.6zM1044.7 658.3h4.6v4.6h-4.6zM1035.1 707.4h4.6v4.6h-4.6zM1045.4 716.3h4.6v4.6h-4.6zM1044.9 608h4.6v4.6h-4.6zM1037.3 685.8h4.6v4.6h-4.6zM1037.8 663.3h4.6v4.6h-4.6zM1042.8 662h4.6v4.6h-4.6zM1034.7 592.6h4.6v4.6h-4.6zM1033.9 716h4.6v4.6h-4.6zM1041.9 609.7h4.6v4.6h-4.6zM1033.1 659.9h4.6v4.6h-4.6zM1042 668h4.6v4.6h-4.6zM1047.6 592.1h4.6v4.6h-4.6zM1034.4 664.5h4.6v4.6h-4.6zM1031.8 719.3h4.6v4.6h-4.6zM1035.2 627.1h4.6v4.6h-4.6zM1047 709.3h4.6v4.6h-4.6zM1032.4 703.6h4.6v4.6h-4.6zM1037.1 622.2h4.6v4.6h-4.6zM1033.1 695.6h4.6v4.6h-4.6zM1043.9 614.7h4.6v4.6h-4.6zM1034.8 620.8h4.6v4.6h-4.6zM1040.2 623.6h4.6v4.6h-4.6zM1048.1 686.4h4.6v4.6h-4.6zM1044.2 678.5h4.6v4.6h-4.6zM1046.6 698.5h4.6v4.6h-4.6zM1033.9 654.4h4.6v4.6h-4.6zM1041.7 670.7h4.6v4.6h-4.6zM1043.3 660.9h4.6v4.6h-4.6zM1045.6 701.4h4.6v4.6h-4.6zM1042.8 671.3h4.6v4.6h-4.6zM1047.2 613h4.6v4.6h-4.6zM1037.6 643.3h4.6v4.6h-4.6zM1048.8 713.1h4.6v4.6h-4.6zM1047.8 637.9h4.6v4.6h-4.6zM1046.6 662.3h4.6v4.6h-4.6zM1043.5 669.5h4.6v4.6h-4.6zM1046.6 638.4h4.6v4.6h-4.6zM1039.3 685.1h4.6v4.6h-4.6zM1045.4 640.5h4.6v4.6h-4.6zM1034.5 599h4.6v4.6h-4.6zM1046.1 609.5h4.6v4.6h-4.6zM1046.3 683.7h4.6v4.6h-4.6zM1043.5 610.1h4.6v4.6h-4.6zM1034 673.6h4.6v4.6h-4.6zM1045.2 645.1h4.6v4.6h-4.6zM1044.7 693.8h4.6v4.6h-4.6zM1037.2 592.9h4.6v4.6h-4.6zM1044.7 686.3h4.6v4.6h-4.6zM1046.7 641.5h4.6v4.6h-4.6zM1041.2 599.4h4.6v4.6h-4.6zM1036.1 640.2h4.6v4.6h-4.6zM1035.3 694.9h4.6v4.6h-4.6zM1038.8 624.7h4.6v4.6h-4.6zM1040.8 665.9h4.6v4.6h-4.6zM1032.9 700.9h4.6v4.6h-4.6zM1038.4 639.1h4.6v4.6h-4.6zM1033.4 649.8h4.6v4.6h-4.6zM1049.2 716.8h4.6v4.6h-4.6zM1040.7 602h4.6v4.6h-4.6zM1045.1 685.3h4.6v4.6h-4.6zM1047.5 662.7h4.6v4.6h-4.6zM1045.4 615.6h4.6v4.6h-4.6zM1033 686.4h4.6v4.6h-4.6zM1035.3 693.7h4.6v4.6h-4.6zM1032.8 709.9h4.6v4.6h-4.6zM1046.3 644.6h4.6v4.6h-4.6zM1047.5 658.2h4.6v4.6h-4.6zM1034.8 595.9h4.6v4.6h-4.6zM1034.6 666.6h4.6v4.6h-4.6zM1037.5 589.1h4.6v4.6h-4.6zM1047.5 633.1h4.6v4.6h-4.6zM1039.8 667.2h4.6v4.6h-4.6zM1048.4 699.4h4.6v4.6h-4.6zM1038.2 686.1h4.6v4.6h-4.6zM1046.5 596.9h4.6v4.6h-4.6zM1045.6 714.9h4.6v4.6h-4.6zM1042.9 623.6h4.6v4.6h-4.6zM1034.4 713.7h4.6v4.6h-4.6zM1047.2 617.3h4.6v4.6h-4.6zM1042 680.2h4.6v4.6h-4.6zM1034.4 686h4.6v4.6h-4.6zM1035.6 655h4.6v4.6h-4.6zM1034.7 688.5h4.6v4.6h-4.6zM1033.6 628h4.6v4.6h-4.6zM1032.9 694.5h4.6v4.6h-4.6zM1037 593.5h4.6v4.6h-4.6zM1034.4 659.7h4.6v4.6h-4.6zM1045.7 593.3h4.6v4.6h-4.6zM1038.1 659h4.6v4.6h-4.6zM1040.5 607.9h4.6v4.6h-4.6zM1035.9 701.7h4.6v4.6h-4.6zM1044.3 713.6h4.6v4.6h-4.6zM1035.3 645.1h4.6v4.6h-4.6zM1036.7 700h4.6v4.6h-4.6zM1037.9 653.7h4.6v4.6h-4.6zM1035.5 596.9h4.6v4.6h-4.6zM1047.5 713.6h4.6v4.6h-4.6zM1036.5 629.3h4.6v4.6h-4.6zM1036.7 681.9h4.6v4.6h-4.6zM1038.3 693.6h4.6v4.6h-4.6zM1047.8 584.8h4.6v4.6h-4.6zM1037 708h4.6v4.6h-4.6zM1034.7 597.8h4.6v4.6h-4.6zM1048.3 680.9h4.6v4.6h-4.6zM1046 719.2h4.6v4.6h-4.6zM1034.9 674.4h4.6v4.6h-4.6zM1046.5 721.2h4.6v4.6h-4.6zM1035.9 648.8h4.6v4.6h-4.6zM1047 661.4h4.6v4.6h-4.6zM1041.8 691.3h4.6v4.6h-4.6zM1035.2 702.4h4.6v4.6h-4.6zM1033.4 710.5h4.6v4.6h-4.6zM1040.7 637.5h4.6v4.6h-4.6zM1035.8 683.7h4.6v4.6h-4.6zM1043.8 637h4.6v4.6h-4.6zM1044.6 712.4h4.6v4.6h-4.6zM1044 665.1h4.6v4.6h-4.6zM1046 713.8h4.6v4.6h-4.6zM1046 675.2h4.6v4.6h-4.6zM1040.6 595.9h4.6v4.6h-4.6zM1035.5 684.7h4.6v4.6h-4.6zM1042 670.2h4.6v4.6h-4.6zM1040.9 720.8h4.6v4.6h-4.6zM1040.8 659.9h4.6v4.6h-4.6zM1044.2 704.8h4.6v4.6h-4.6zM1039.1 623.3h4.6v4.6h-4.6zM1047.1 713h4.6v4.6h-4.6zM1040.8 589.9h4.6v4.6h-4.6zM1041.2 648.3h4.6v4.6h-4.6zM1048.8 718.6h4.6v4.6h-4.6zM1035.3 690.6h4.6v4.6h-4.6zM1036.3 707.3h4.6v4.6h-4.6zM1041.9 638.8h4.6v4.6h-4.6zM991.7 834.7h4.6v4.6h-4.6zM996.5 832.7h4.6v4.6h-4.6zM1011.4 831.3h4.6v4.6h-4.6zM1012.3 838.4h4.6v4.6h-4.6zM1075.8 827.9h4.6v4.6h-4.6zM1089.6 837.8h4.6v4.6h-4.6zM1103.1 840.6h4.6v4.6h-4.6zM1093.8 846.3h4.6v4.6h-4.6zM1104 850.5h4.6v4.6h-4.6zM1067.9 846.8h4.6v4.6h-4.6zM1012.8 859h4.6v4.6h-4.6zM1010 886.9h4.6v4.6h-4.6zM1012.8 886.9h4.6v4.6h-4.6zM1067 886.9h4.6v4.6h-4.6zM1060.8 860.9h4.6v4.6h-4.6zM1061.6 870.8h4.6v4.6h-4.6zM1056 876.5h4.6v4.6h-4.6zM1015.7 853.9h4.6v4.6h-4.6zM1017.1 845.4h4.6v4.6h-4.6zM1019.9 837h4.6v4.6h-4.6zM1021.3 828.5h4.6v4.6h-4.6zM1065 832.7h4.6v4.6h-4.6zM1067.9 838.4h4.6v4.6h-4.6zM1063.1 839.8h4.6v4.6h-4.6zM1059.4 853.9h4.6v4.6h-4.6zM1055.2 868h4.6v4.6h-4.6zM1024.1 863.8h4.6v4.6h-4.6zM1026.1 859.5h4.6v4.6h-4.6zM1022.7 848.3h4.6v4.6h-4.6zM1056.6 843.2h4.6v4.6h-4.6zM1058.5 837h4.6v4.6h-4.6zM1060.2 829.9h4.6v4.6h-4.6zM1066.4 815.8h4.6v4.6h-4.6zM1061.4 813h4.6v4.6h-4.6zM1055.2 808.8h4.6v4.6h-4.6zM1010 818.6h4.6v4.6h-4.6zM1005.8 822.9h4.6v4.6h-4.6zM1035.6 481.6h4.6v4.6h-4.6zM1034.6 507.1h4.6v4.6h-4.6zM1047.1 538.8h4.6v4.6h-4.6zM1032.5 594.9h4.6v4.6h-4.6zM1046.1 593.7h4.6v4.6h-4.6z" fill="none" stroke="#b4b4b4" stroke-width="1.05"/>
<path d="M1021 720.6h4.6v4.6h-4.6zM1011.4 788.9h4.6v4.6h-4.6zM1028.2 683.9h4.6v4.6h-4.6zM1019.2 786.2h4.6v4.6h-4.6zM1025.8 724.6h4.6v4.6h-4.6zM1020.1 786.3h4.6v4.6h-4.6zM1018.3 784.3h4.6v4.6h-4.6zM1028.1 655.3h4.6v4.6h-4.6zM1020.4 711.4h4.6v4.6h-4.6zM1014.1 780.4h4.6v4.6h-4.6zM1026.5 639.8h4.6v4.6h-4.6zM1017.2 738.9h4.6v4.6h-4.6zM1024.9 720.1h4.6v4.6h-4.6zM1021 639h4.6v4.6h-4.6zM1025.4 753h4.6v4.6h-4.6zM1023.8 753.5h4.6v4.6h-4.6zM1020.4 630.8h4.6v4.6h-4.6zM1019.9 644.8h4.6v4.6h-4.6zM1028.6 658.1h4.6v4.6h-4.6zM1010.3 721.6h4.6v4.6h-4.6zM1027.7 640.4h4.6v4.6h-4.6zM1021.8 738.6h4.6v4.6h-4.6zM1022.9 748.6h4.6v4.6h-4.6zM1017.7 793.2h4.6v4.6h-4.6zM1027.5 723.9h4.6v4.6h-4.6zM1004 783.9h4.6v4.6h-4.6zM1013.5 672.2h4.6v4.6h-4.6zM1019.1 700h4.6v4.6h-4.6zM1017.2 650.6h4.6v4.6h-4.6zM1013.6 797.2h4.6v4.6h-4.6zM1019.4 764.9h4.6v4.6h-4.6zM1021.5 763.6h4.6v4.6h-4.6zM1023.9 642.5h4.6v4.6h-4.6zM1021.3 767.3h4.6v4.6h-4.6zM1010.8 736.6h4.6v4.6h-4.6zM1024.1 761.4h4.6v4.6h-4.6zM1027.5 697.3h4.6v4.6h-4.6zM1010.8 707.4h4.6v4.6h-4.6zM1025.9 722.3h4.6v4.6h-4.6zM1023.3 730.8h4.6v4.6h-4.6zM1022.7 782.7h4.6v4.6h-4.6zM1021.2 785h4.6v4.6h-4.6zM1025.3 741.4h4.6v4.6h-4.6zM1024.7 768.4h4.6v4.6h-4.6zM1017.7 716.3h4.6v4.6h-4.6zM1023.4 704.4h4.6v4.6h-4.6zM1027 696.8h4.6v4.6h-4.6zM1025 685.2h4.6v4.6h-4.6zM1022.6 716h4.6v4.6h-4.6zM1025.4 730.3h4.6v4.6h-4.6zM1023.8 768.6h4.6v4.6h-4.6zM1025 722.5h4.6v4.6h-4.6zM1027.9 709h4.6v4.6h-4.6zM1016.1 750.6h4.6v4.6h-4.6zM1020.6 769.2h4.6v4.6h-4.6zM1025.7 726.3h4.6v4.6h-4.6zM1027.5 629.5h4.6v4.6h-4.6zM1027.7 673.1h4.6v4.6h-4.6zM1009.5 793.5h4.6v4.6h-4.6zM1027 735.5h4.6v4.6h-4.6zM1024 744.6h4.6v4.6h-4.6zM1027.9 680.3h4.6v4.6h-4.6zM1007.2 771.2h4.6v4.6h-4.6zM1027.6 679.7h4.6v4.6h-4.6zM1024.6 753.2h4.6v4.6h-4.6zM1023.1 692h4.6v4.6h-4.6zM1019.5 657.6h4.6v4.6h-4.6zM1020.3 721.5h4.6v4.6h-4.6zM1020.7 678.8h4.6v4.6h-4.6zM1019 729.2h4.6v4.6h-4.6zM1014.9 685.6h4.6v4.6h-4.6zM1011.8 785.6h4.6v4.6h-4.6zM1010.1 800h4.6v4.6h-4.6zM1024.2 709h4.6v4.6h-4.6zM1024.7 634.6h4.6v4.6h-4.6zM1018.8 739.4h4.6v4.6h-4.6zM1023.9 653h4.6v4.6h-4.6zM1023.8 746h4.6v4.6h-4.6zM1020.4 732.3h4.6v4.6h-4.6zM1023.5 760.5h4.6v4.6h-4.6zM1025.2 714.6h4.6v4.6h-4.6zM1018.3 755.7h4.6v4.6h-4.6zM1025.1 657.7h4.6v4.6h-4.6zM1026.3 734.8h4.6v4.6h-4.6zM1025.6 758.7h4.6v4.6h-4.6zM1023.1 710.9h4.6v4.6h-4.6zM1007.9 790.8h4.6v4.6h-4.6zM1016.7 755.4h4.6v4.6h-4.6zM1011.4 660h4.6v4.6h-4.6zM1021.4 774.4h4.6v4.6h-4.6zM1029.1 645.3h4.6v4.6h-4.6zM1015.2 795.7h4.6v4.6h-4.6zM1013.7 725.2h4.6v4.6h-4.6zM1024.4 672.8h4.6v4.6h-4.6zM1025.5 627.2h4.6v4.6h-4.6zM1021.3 721.6h4.6v4.6h-4.6zM1024.7 744.3h4.6v4.6h-4.6zM1025.6 707.3h4.6v4.6h-4.6zM1023.1 637.6h4.6v4.6h-4.6zM1027.1 720.2h4.6v4.6h-4.6zM1024.3 746.9h4.6v4.6h-4.6zM1023.2 713.5h4.6v4.6h-4.6zM1010.7 651.5h4.6v4.6h-4.6zM1024.4 727.2h4.6v4.6h-4.6zM1022.8 752.2h4.6v4.6h-4.6zM1027.8 664.4h4.6v4.6h-4.6zM1005.7 756.4h4.6v4.6h-4.6zM1024.9 662.4h4.6v4.6h-4.6zM1010.4 787.9h4.6v4.6h-4.6zM1018.9 689.2h4.6v4.6h-4.6zM1017.4 628.9h4.6v4.6h-4.6zM1026.3 738.9h4.6v4.6h-4.6zM1022.2 761h4.6v4.6h-4.6zM1026.5 723.9h4.6v4.6h-4.6zM1018.6 777.7h4.6v4.6h-4.6zM1025.6 705.7h4.6v4.6h-4.6zM1023.9 628.2h4.6v4.6h-4.6zM1016.7 796.3h4.6v4.6h-4.6zM1026.7 670h4.6v4.6h-4.6zM1028.4 689h4.6v4.6h-4.6zM1016.3 758.6h4.6v4.6h-4.6zM1021.9 708.9h4.6v4.6h-4.6zM1020.5 775.6h4.6v4.6h-4.6zM1026.1 715h4.6v4.6h-4.6zM1024.1 697.4h4.6v4.6h-4.6zM1024.8 627.5h4.6v4.6h-4.6zM1026.5 740.6h4.6v4.6h-4.6zM1015.7 781.5h4.6v4.6h-4.6zM1022.1 788.4h4.6v4.6h-4.6zM1019.7 779.5h4.6v4.6h-4.6zM1023.6 663h4.6v4.6h-4.6zM1028.4 666.3h4.6v4.6h-4.6zM1010.2 799.3h4.6v4.6h-4.6zM1019.9 755.6h4.6v4.6h-4.6zM1026 750.4h4.6v4.6h-4.6zM1025.1 764.7h4.6v4.6h-4.6zM1024.3 646.7h4.6v4.6h-4.6zM1023.7 751.2h4.6v4.6h-4.6zM1026.8 745h4.6v4.6h-4.6zM1024.3 649.4h4.6v4.6h-4.6zM1026.1 635.2h4.6v4.6h-4.6zM1026.5 702.5h4.6v4.6h-4.6zM1005 796.1h4.6v4.6h-4.6zM1026.9 656.6h4.6v4.6h-4.6zM1019.8 647.7h4.6v4.6h-4.6zM1021.4 758.7h4.6v4.6h-4.6zM1025.6 635.1h4.6v4.6h-4.6zM1027.8 637.3h4.6v4.6h-4.6zM1020.2 744.3h4.6v4.6h-4.6zM1022.8 771.8h4.6v4.6h-4.6zM1025.4 652.5h4.6v4.6h-4.6zM1027.2 669h4.6v4.6h-4.6zM1021.4 779h4.6v4.6h-4.6zM1004.5 777.1h4.6v4.6h-4.6zM1021.6 760.9h4.6v4.6h-4.6zM1018.6 787.3h4.6v4.6h-4.6zM1024.3 745h4.6v4.6h-4.6zM1020 793.6h4.6v4.6h-4.6zM1026.5 662.4h4.6v4.6h-4.6zM1024.1 768.2h4.6v4.6h-4.6zM1024.5 762h4.6v4.6h-4.6zM1013.2 797.1h4.6v4.6h-4.6zM1026 752.5h4.6v4.6h-4.6zM1027.9 686.1h4.6v4.6h-4.6zM1015.8 764.2h4.6v4.6h-4.6zM1019.8 785.5h4.6v4.6h-4.6zM1019.9 660.3h4.6v4.6h-4.6zM1021.2 781.1h4.6v4.6h-4.6zM1025.9 682.9h4.6v4.6h-4.6zM1028 635.5h4.6v4.6h-4.6zM1025.4 637h4.6v4.6h-4.6zM1021.6 770.9h4.6v4.6h-4.6zM1016.4 785.1h4.6v4.6h-4.6zM1012.9 765.7h4.6v4.6h-4.6zM1025.4 708.6h4.6v4.6h-4.6zM1020.1 768h4.6v4.6h-4.6zM1013.3 773.2h4.6v4.6h-4.6zM1019 786.2h4.6v4.6h-4.6zM1026 717h4.6v4.6h-4.6zM1026 673.2h4.6v4.6h-4.6zM1023.6 695.4h4.6v4.6h-4.6zM1023.9 757.6h4.6v4.6h-4.6zM1020.7 791.1h4.6v4.6h-4.6zM1026.8 657.4h4.6v4.6h-4.6zM1027.6 694.4h4.6v4.6h-4.6zM1025.4 713.4h4.6v4.6h-4.6zM1025.7 724.7h4.6v4.6h-4.6zM1018.6 793.6h4.6v4.6h-4.6zM1024.1 771.1h4.6v4.6h-4.6zM1026.6 684h4.6v4.6h-4.6zM1014 741.9h4.6v4.6h-4.6zM1016.9 672.5h4.6v4.6h-4.6zM1028.2 655.3h4.6v4.6h-4.6zM1025.7 763.1h4.6v4.6h-4.6zM1022.3 691.2h4.6v4.6h-4.6zM1024.1 750.8h4.6v4.6h-4.6zM1021.7 695.1h4.6v4.6h-4.6zM1015 767.6h4.6v4.6h-4.6zM1021.6 750.7h4.6v4.6h-4.6zM1023.3 777.8h4.6v4.6h-4.6zM1021.9 644.9h4.6v4.6h-4.6zM1028.2 684.8h4.6v4.6h-4.6zM1018.5 796.6h4.6v4.6h-4.6zM1022.3 775.4h4.6v4.6h-4.6zM1026.9 745.8h4.6v4.6h-4.6zM1021 757.6h4.6v4.6h-4.6zM1013.9 778.1h4.6v4.6h-4.6zM1021 711.9h4.6v4.6h-4.6zM1022.3 766.6h4.6v4.6h-4.6zM1026 690.3h4.6v4.6h-4.6zM1008.1 800.2h4.6v4.6h-4.6zM1026.8 672.3h4.6v4.6h-4.6zM1009 796.3h4.6v4.6h-4.6zM1027.8 704.9h4.6v4.6h-4.6zM1024.6 768.2h4.6v4.6h-4.6zM1027.4 669.3h4.6v4.6h-4.6zM1021.5 644.5h4.6v4.6h-4.6zM1015.2 791.1h4.6v4.6h-4.6zM1019.6 743.6h4.6v4.6h-4.6zM1027 661.8h4.6v4.6h-4.6zM1005.9 790.6h4.6v4.6h-4.6zM1012.6 738.3h4.6v4.6h-4.6zM1021 688.8h4.6v4.6h-4.6zM1023.4 661.6h4.6v4.6h-4.6zM1027.1 733.2h4.6v4.6h-4.6zM1025.3 687.6h4.6v4.6h-4.6zM1013.2 722.6h4.6v4.6h-4.6zM1015.1 785.6h4.6v4.6h-4.6zM1013 796.2h4.6v4.6h-4.6zM1027.1 666.4h4.6v4.6h-4.6zM1008.6 716.3h4.6v4.6h-4.6zM1023.9 699.2h4.6v4.6h-4.6zM1025 767.4h4.6v4.6h-4.6zM1024.1 749.7h4.6v4.6h-4.6zM1022.4 774.9h4.6v4.6h-4.6zM1011.3 803h4.6v4.6h-4.6zM1022.9 776.9h4.6v4.6h-4.6zM1015.7 797.9h4.6v4.6h-4.6zM1010.4 787.9h4.6v4.6h-4.6zM1019.5 792.5h4.6v4.6h-4.6zM1024.8 766.5h4.6v4.6h-4.6zM1021.6 782.2h4.6v4.6h-4.6zM1021.5 769.8h4.6v4.6h-4.6zM1023.9 772.5h4.6v4.6h-4.6zM1020 777.1h4.6v4.6h-4.6zM1016.3 787.1h4.6v4.6h-4.6zM1024.6 769.1h4.6v4.6h-4.6zM1017.9 795.5h4.6v4.6h-4.6zM1017.9 799.6h4.6v4.6h-4.6zM1018.7 796h4.6v4.6h-4.6zM1021.7 775.4h4.6v4.6h-4.6zM1014.6 804.2h4.6v4.6h-4.6zM1020.9 786.8h4.6v4.6h-4.6zM1017.1 801.5h4.6v4.6h-4.6zM1024.2 773h4.6v4.6h-4.6zM1023 782.1h4.6v4.6h-4.6zM1020.4 785.8h4.6v4.6h-4.6zM1014.4 800.4h4.6v4.6h-4.6zM1001.2 809.3h4.6v4.6h-4.6zM1019.5 778.2h4.6v4.6h-4.6zM1021 764h4.6v4.6h-4.6zM1017.9 797.4h4.6v4.6h-4.6zM1016.7 802.9h4.6v4.6h-4.6zM1016.5 771.8h4.6v4.6h-4.6zM1019.1 795.2h4.6v4.6h-4.6zM1015.5 778.5h4.6v4.6h-4.6zM1024.9 764.4h4.6v4.6h-4.6zM1021 599.3h4.6v4.6h-4.6zM1027.9 601.7h4.6v4.6h-4.6zM1020.7 632.4h4.6v4.6h-4.6zM1027.2 625h4.6v4.6h-4.6zM1027.4 612.2h4.6v4.6h-4.6zM1028.5 596.8h4.6v4.6h-4.6zM1025.1 640.3h4.6v4.6h-4.6zM1021.2 608h4.6v4.6h-4.6zM1018 603.7h4.6v4.6h-4.6zM1026.5 590.5h4.6v4.6h-4.6zM1028.8 615.1h4.6v4.6h-4.6zM1025.1 626.1h4.6v4.6h-4.6zM1023.4 638.2h4.6v4.6h-4.6zM1026.4 633.6h4.6v4.6h-4.6zM1052.6 636.9h4.6v4.6h-4.6zM1064 796.7h4.6v4.6h-4.6zM1062.4 777h4.6v4.6h-4.6zM1070.5 800.1h4.6v4.6h-4.6zM1059.3 659.8h4.6v4.6h-4.6zM1055.4 739.5h4.6v4.6h-4.6zM1056.2 697h4.6v4.6h-4.6zM1055.8 740.2h4.6v4.6h-4.6zM1058.7 737.2h4.6v4.6h-4.6zM1062.9 665.5h4.6v4.6h-4.6zM1059 780.8h4.6v4.6h-4.6zM1057.5 736.4h4.6v4.6h-4.6zM1055.8 752.5h4.6v4.6h-4.6zM1061.9 791.4h4.6v4.6h-4.6zM1069.7 733.4h4.6v4.6h-4.6zM1061.3 649.2h4.6v4.6h-4.6zM1066.8 636h4.6v4.6h-4.6zM1060.6 704.8h4.6v4.6h-4.6zM1065.9 794.4h4.6v4.6h-4.6zM1054.7 706.8h4.6v4.6h-4.6zM1067 713.7h4.6v4.6h-4.6zM1058.3 729.9h4.6v4.6h-4.6zM1057.3 760.4h4.6v4.6h-4.6zM1052.4 653.9h4.6v4.6h-4.6zM1061.8 777.3h4.6v4.6h-4.6zM1054.1 735.7h4.6v4.6h-4.6zM1055 697.2h4.6v4.6h-4.6zM1055.7 712h4.6v4.6h-4.6zM1057.2 721.1h4.6v4.6h-4.6zM1054.8 744.4h4.6v4.6h-4.6zM1066.8 778.5h4.6v4.6h-4.6zM1053.9 717.9h4.6v4.6h-4.6zM1053.6 658.4h4.6v4.6h-4.6zM1063.2 790.2h4.6v4.6h-4.6zM1059 767.9h4.6v4.6h-4.6zM1054.5 716.8h4.6v4.6h-4.6zM1053.8 713.4h4.6v4.6h-4.6zM1057.5 724.1h4.6v4.6h-4.6zM1062.6 792h4.6v4.6h-4.6zM1063.1 792.8h4.6v4.6h-4.6zM1055.9 658.2h4.6v4.6h-4.6zM1059.1 687h4.6v4.6h-4.6zM1053.2 685.7h4.6v4.6h-4.6zM1054.6 664.7h4.6v4.6h-4.6zM1071.7 779.8h4.6v4.6h-4.6zM1060 715.2h4.6v4.6h-4.6zM1065.2 784.7h4.6v4.6h-4.6zM1062.1 794.7h4.6v4.6h-4.6zM1054.6 748.4h4.6v4.6h-4.6zM1054.3 709.5h4.6v4.6h-4.6zM1061 760.3h4.6v4.6h-4.6zM1063.8 739.4h4.6v4.6h-4.6zM1062.4 704.5h4.6v4.6h-4.6zM1064.6 715.2h4.6v4.6h-4.6zM1053.1 656.7h4.6v4.6h-4.6zM1054.5 681.1h4.6v4.6h-4.6zM1057.7 677.6h4.6v4.6h-4.6zM1053 665.6h4.6v4.6h-4.6zM1060.6 748.3h4.6v4.6h-4.6zM1058 641.3h4.6v4.6h-4.6zM1065.5 796.3h4.6v4.6h-4.6zM1063.2 789.6h4.6v4.6h-4.6zM1052.9 670h4.6v4.6h-4.6zM1057.3 645.9h4.6v4.6h-4.6zM1056.9 767.4h4.6v4.6h-4.6zM1061.9 735.8h4.6v4.6h-4.6zM1053.8 711.8h4.6v4.6h-4.6zM1062.4 798.6h4.6v4.6h-4.6zM1053.3 670.5h4.6v4.6h-4.6zM1054.9 716.8h4.6v4.6h-4.6zM1055 692.2h4.6v4.6h-4.6zM1067.5 783.6h4.6v4.6h-4.6zM1058.7 719.6h4.6v4.6h-4.6zM1065.8 669h4.6v4.6h-4.6zM1063.9 799.2h4.6v4.6h-4.6zM1061.1 782.7h4.6v4.6h-4.6zM1059.6 656.3h4.6v4.6h-4.6zM1062.4 797.1h4.6v4.6h-4.6zM1057.5 667h4.6v4.6h-4.6zM1057.2 745.1h4.6v4.6h-4.6zM1066.1 781.7h4.6v4.6h-4.6zM1063.6 744.9h4.6v4.6h-4.6zM1053.5 706.4h4.6v4.6h-4.6zM1056.2 755.5h4.6v4.6h-4.6zM1056.3 652.1h4.6v4.6h-4.6zM1062.1 796.3h4.6v4.6h-4.6zM1057.5 750.3h4.6v4.6h-4.6zM1055.5 712.6h4.6v4.6h-4.6zM1054.8 751.5h4.6v4.6h-4.6zM1055.1 712.3h4.6v4.6h-4.6zM1064.7 798.6h4.6v4.6h-4.6zM1052.3 633.6h4.6v4.6h-4.6zM1063.1 783.4h4.6v4.6h-4.6zM1057.2 764.6h4.6v4.6h-4.6zM1054.9 726.5h4.6v4.6h-4.6zM1055 613.5h4.6v4.6h-4.6zM1055.5 640.9h4.6v4.6h-4.6zM1060.2 603.1h4.6v4.6h-4.6zM1055.9 603h4.6v4.6h-4.6zM1053.8 610.1h4.6v4.6h-4.6zM1058.4 628.2h4.6v4.6h-4.6zM1053.4 607.7h4.6v4.6h-4.6zM1057.3 603.5h4.6v4.6h-4.6zM1056.1 616.6h4.6v4.6h-4.6zM1055.3 624.7h4.6v4.6h-4.6zM1052.3 621.8h4.6v4.6h-4.6zM1053.6 625.3h4.6v4.6h-4.6zM1058.7 769.2h4.6v4.6h-4.6zM1061.8 793.6h4.6v4.6h-4.6zM1063.7 798.8h4.6v4.6h-4.6zM1063.8 802.8h4.6v4.6h-4.6zM1058.8 773.8h4.6v4.6h-4.6zM1063.2 790.5h4.6v4.6h-4.6zM1062 796.2h4.6v4.6h-4.6zM1066.9 805.5h4.6v4.6h-4.6zM1066.4 795.9h4.6v4.6h-4.6zM1058.9 785.1h4.6v4.6h-4.6zM1066.2 801.1h4.6v4.6h-4.6zM1057.8 769.2h4.6v4.6h-4.6zM1058.9 777.6h4.6v4.6h-4.6zM1056.7 773.9h4.6v4.6h-4.6zM1222.9 294.8h4.6v4.6h-4.6zM1243.1 342.8h4.6v4.6h-4.6zM1148.7 421.1h4.6v4.6h-4.6zM1102 434.1h4.6v4.6h-4.6zM1112.7 477.5h4.6v4.6h-4.6zM1098.9 551.8h4.6v4.6h-4.6zM1023.6 516.8h4.6v4.6h-4.6zM1064.9 536.7h4.6v4.6h-4.6zM1060.6 544.4h4.6v4.6h-4.6zM1059.3 552.6h4.6v4.6h-4.6zM1025.4 540.1h4.6v4.6h-4.6zM1028.7 550.8h4.6v4.6h-4.6zM1051.2 559.2h4.6v4.6h-4.6zM1051.7 566.1h4.6v4.6h-4.6zM1060.6 573h4.6v4.6h-4.6zM1022.3 567.4h4.6v4.6h-4.6zM1050.4 583.4h4.6v4.6h-4.6zM1015.9 591.1h4.6v4.6h-4.6zM1022.3 593.7h4.6v4.6h-4.6zM956.4 734.9h4.6v4.6h-4.6zM970.5 757.4h4.6v4.6h-4.6zM955.6 820h4.6v4.6h-4.6zM964 820h4.6v4.6h-4.6zM990.3 646h4.6v4.6h-4.6zM998.7 624.6h4.6v4.6h-4.6zM995.1 670.5h4.6v4.6h-4.6zM1003 689.4h4.6v4.6h-4.6zM1001 707.2h4.6v4.6h-4.6zM994.5 732h4.6v4.6h-4.6zM995.4 749h4.6v4.6h-4.6zM995.4 789h4.6v4.6h-4.6zM995.9 799.7h4.6v4.6h-4.6zM993.9 803.7h4.6v4.6h-4.6zM1088.4 611.9h4.6v4.6h-4.6zM1086.2 729.8h4.6v4.6h-4.6zM1100.9 770.1h4.6v4.6h-4.6zM1087 822h4.6v4.6h-4.6zM1065.9 618.3h4.6v4.6h-4.6zM1070.1 642.3h4.6v4.6h-4.6zM1075.5 694.8h4.6v4.6h-4.6zM1072.7 702.1h4.6v4.6h-4.6zM1073.5 746.7h4.6v4.6h-4.6zM1071.2 776.3h4.6v4.6h-4.6zM1060.8 572.4h4.6v4.6h-4.6zM1022.2 567.6h4.6v4.6h-4.6zM1004.4 664.9h4.6v4.6h-4.6zM1005.8 673.4h4.6v4.6h-4.6zM1010 631h4.6v4.6h-4.6zM1015.7 591h4.6v4.6h-4.6zM1022.2 593.8h4.6v4.6h-4.6zM1016.2 609.9h4.6v4.6h-4.6zM1022.7 609.9h4.6v4.6h-4.6zM1058.5 603.4h4.6v4.6h-4.6zM1055.2 615.5h4.6v4.6h-4.6zM1060.2 624h4.6v4.6h-4.6zM1062.2 643.7h4.6v4.6h-4.6zM1062.2 655h4.6v4.6h-4.6zM1065 687.5h4.6v4.6h-4.6zM1063.1 695.9h4.6v4.6h-4.6zM1065.9 726.1h4.6v4.6h-4.6zM1067.9 748.1h4.6v4.6h-4.6zM1063.1 747.3h4.6v4.6h-4.6zM1071.2 780.5h4.6v4.6h-4.6zM1065 787.6h4.6v4.6h-4.6zM1065.9 797.5h4.6v4.6h-4.6zM1001.6 816.7h4.6v4.6h-4.6zM1006.6 808.2h4.6v4.6h-4.6zM1011.4 807.3h4.6v4.6h-4.6z" fill="none" stroke="#e6202a" stroke-width="1.15"/>
<path d="M943.5 834.2L967.2 832.2L986.9 829.4L997.5 826.5L1006.7 822.3L1013.8 815.8L1019.4 808.2L1023.4 800.5L1026.4 791.3L1029.2 775L1030.7 757.5L1031.5 730L1032 701L1032.6 670L1033.5 616.4L1033.7 600L1034.6 450L1035.6 311.9L1051.9 311.9L1052.2 450L1052.4 560L1053.2 672.8L1053.8 710L1054.6 740.5L1055.8 762L1057.5 780L1059.9 792.5L1063.1 802.6L1066.9 810.3L1071.6 816.7L1078 821.6L1085.7 825.2L1096 828.4L1108.2 830.8L1124 832.8L1142.1 834.2L1170 835.2L1198.5 835.9L1258.6 837.3" fill="none" stroke="#000" stroke-width="2" stroke-linejoin="round"/>
</g>
<g id="D">
<rect x="1594.5" y="283.5" width="88" height="13.2" fill="#a7a9ac"/>
<rect x="1682.3" y="283.5" width="87.7" height="13.2" fill="#58595b"/>
<rect x="1769.8" y="283.5" width="129" height="13.2" fill="#231f20"/>
<text transform="translate(1622.5 280.3) rotate(-30.5)" font-size="28" fill="#111">Control</text>
<text transform="translate(1727.5 277) rotate(-30.5)" font-size="28" fill="#111">GFP</text>
<text transform="translate(1831 281.5) rotate(-30.5)" font-size="28" fill="#111">Cypin OE</text>
<g filter="url(#hb)">
<rect x="1594.6" y="300.00" width="304.9" height="2.85" fill="#ffffff"/>
<rect x="1594.6" y="302.50" width="88.8" height="2.51" fill="#ffffff"/>
<rect x="1683" y="302.50" width="87.4" height="2.51" fill="#ffffff"/>
<rect x="1770" y="302.50" width="87.4" height="2.51" fill="#ffffff"/>
<rect x="1857" y="302.50" width="42.5" height="2.51" fill="#dadafc"/>
<rect x="1594.6" y="304.66" width="304.9" height="3.68" fill="#f01010"/>
<rect x="1594.6" y="307.99" width="304.9" height="1.51" fill="#ffd8d8"/>
<rect x="1594.6" y="309.15" width="304.9" height="1.51" fill="#ffffff"/>
<rect x="1594.6" y="310.32" width="304.9" height="2.01" fill="#6a3cc4"/>
<rect x="1594.6" y="311.98" width="304.9" height="2.51" fill="#c4588e"/>
<rect x="1594.6" y="314.15" width="304.9" height="4.18" fill="#2a0cc6"/>
<rect x="1594.6" y="317.97" width="88.8" height="3.68" fill="#fb9696"/>
<rect x="1683" y="317.97" width="87.4" height="3.68" fill="#f64848"/>
<rect x="1770" y="317.97" width="129.5" height="3.68" fill="#f01010"/>
<rect x="1594.6" y="321.30" width="88.8" height="3.68" fill="#ffd8d8"/>
<rect x="1683" y="321.30" width="87.4" height="3.68" fill="#ffd8d8"/>
<rect x="1770" y="321.30" width="129.5" height="3.68" fill="#ffffff"/>
<rect x="1594.6" y="324.63" width="304.9" height="5.68" fill="#0a0aee"/>
<rect x="1594.6" y="329.96" width="304.9" height="2.01" fill="#c4588e"/>
<rect x="1594.6" y="331.62" width="304.9" height="2.85" fill="#d4c4ea"/>
<rect x="1594.6" y="334.12" width="304.9" height="4.18" fill="#f01010"/>
<rect x="1594.6" y="337.94" width="304.9" height="3.18" fill="#ffd8d8"/>
<rect x="1594.6" y="340.77" width="304.9" height="3.18" fill="#f01010"/>
<rect x="1594.6" y="343.60" width="304.9" height="1.35" fill="#ffd8d8"/>
<rect x="1594.6" y="344.60" width="304.9" height="5.34" fill="#0a0aee"/>
<rect x="1594.6" y="349.59" width="304.9" height="2.35" fill="#5252ec"/>
<rect x="1594.6" y="351.59" width="304.9" height="4.51" fill="#9c9cf8"/>
<rect x="1594.6" y="355.75" width="304.9" height="2.51" fill="#6a3cc4"/>
<rect x="1594.6" y="357.91" width="304.9" height="2.01" fill="#f64848"/>
<rect x="1594.6" y="359.58" width="304.9" height="2.35" fill="#fb9696"/>
<rect x="1594.6" y="361.58" width="304.9" height="4.51" fill="#f01010"/>
<rect x="1594.6" y="365.74" width="304.9" height="6.51" fill="#fb0000"/>
<rect x="1594.6" y="371.89" width="304.9" height="6.34" fill="#0a0aee"/>
<rect x="1594.6" y="377.89" width="304.9" height="1.68" fill="#ffd8d8"/>
<rect x="1594.6" y="379.22" width="304.9" height="1.85" fill="#ffffff"/>
<rect x="1594.6" y="380.71" width="88.8" height="3.18" fill="#9c9cf8"/>
<rect x="1683" y="380.71" width="87.4" height="3.18" fill="#dadafc"/>
<rect x="1770" y="380.71" width="129.5" height="3.18" fill="#ffffff"/>
<rect x="1594.6" y="383.54" width="304.9" height="2.51" fill="#ffffff"/>
<rect x="1594.6" y="385.71" width="304.9" height="2.51" fill="#fb9696"/>
<rect x="1594.6" y="387.87" width="304.9" height="1.68" fill="#ffd8d8"/>
<rect x="1594.6" y="389.20" width="304.9" height="1.85" fill="#ffffff"/>
<rect x="1594.6" y="390.70" width="304.9" height="1.68" fill="#2a0cc6"/>
<rect x="1594.6" y="392.03" width="304.9" height="2.35" fill="#c4588e"/>
<rect x="1594.6" y="394.03" width="304.9" height="3.68" fill="#0a0aee"/>
<rect x="1594.6" y="397.36" width="88.8" height="4.18" fill="#dadafc"/>
<rect x="1683" y="397.36" width="87.4" height="4.18" fill="#ffffff"/>
<rect x="1770" y="397.36" width="129.5" height="4.18" fill="#ffffff"/>
<rect x="1594.6" y="401.18" width="304.9" height="3.68" fill="#0a0aee"/>
<rect x="1594.6" y="404.51" width="304.9" height="3.18" fill="#ffffff"/>
<rect x="1594.6" y="407.34" width="304.9" height="2.35" fill="#ffd8d8"/>
<rect x="1594.6" y="409.34" width="304.9" height="2.51" fill="#f64848"/>
<rect x="1594.6" y="411.50" width="304.9" height="2.01" fill="#ffd8d8"/>
<rect x="1594.6" y="413.17" width="304.9" height="1.68" fill="#ffffff"/>
<rect x="1594.6" y="414.50" width="304.9" height="3.01" fill="#9c9cf8"/>
<rect x="1594.6" y="417.16" width="304.9" height="3.18" fill="#5252ec"/>
<rect x="1594.6" y="420.00" width="304.9" height="2.35" fill="#2a0cc6"/>
<rect x="1594.6" y="422.00" width="304.9" height="2.51" fill="#f01010"/>
<rect x="1594.6" y="424.16" width="304.9" height="2.01" fill="#ffd8d8"/>
<rect x="1594.6" y="425.82" width="304.9" height="5.84" fill="#fb0000"/>
<rect x="1594.6" y="431.32" width="88.8" height="2.01" fill="#f64848"/>
<rect x="1683" y="431.32" width="87.4" height="2.01" fill="#f64848"/>
<rect x="1770" y="431.32" width="129.5" height="2.01" fill="#f01010"/>
<rect x="1594.6" y="432.98" width="304.9" height="2.35" fill="#f01010"/>
<rect x="1594.6" y="434.98" width="88.8" height="2.01" fill="#fb9696"/>
<rect x="1683" y="434.98" width="87.4" height="2.01" fill="#fb9696"/>
<rect x="1770" y="434.98" width="129.5" height="2.01" fill="#f64848"/>
<rect x="1594.6" y="436.64" width="88.8" height="4.51" fill="#f64848"/>
<rect x="1683" y="436.64" width="87.4" height="4.51" fill="#f64848"/>
<rect x="1770" y="436.64" width="129.5" height="4.51" fill="#f01010"/>
<rect x="1594.6" y="440.80" width="304.9" height="1.51" fill="#ffd8d8"/>
<rect x="1594.6" y="441.97" width="88.8" height="2.51" fill="#5252ec"/>
<rect x="1683" y="441.97" width="87.4" height="2.51" fill="#5252ec"/>
<rect x="1770" y="441.97" width="87.4" height="2.51" fill="#9c9cf8"/>
<rect x="1857" y="441.97" width="42.5" height="2.51" fill="#dadafc"/>
<rect x="1594.6" y="444.13" width="88.8" height="3.68" fill="#d4c4ea"/>
<rect x="1683" y="444.13" width="87.4" height="3.68" fill="#ffffff"/>
<rect x="1770" y="444.13" width="87.4" height="3.68" fill="#ffffff"/>
<rect x="1857" y="444.13" width="42.5" height="3.68" fill="#dadafc"/>
<rect x="1594.6" y="447.46" width="88.8" height="3.68" fill="#ffffff"/>
<rect x="1683" y="447.46" width="87.4" height="3.68" fill="#dadafc"/>
<rect x="1770" y="447.46" width="129.5" height="3.68" fill="#ffffff"/>
<rect x="1594.6" y="450.79" width="88.8" height="2.35" fill="#f01010"/>
<rect x="1683" y="450.79" width="87.4" height="2.35" fill="#f01010"/>
<rect x="1770" y="450.79" width="87.4" height="2.35" fill="#f01010"/>
<rect x="1857" y="450.79" width="42.5" height="2.35" fill="#f01010"/>
<rect x="1594.6" y="452.79" width="88.8" height="2.51" fill="#f01010"/>
<rect x="1683" y="452.79" width="87.4" height="2.51" fill="#f01010"/>
<rect x="1770" y="452.79" width="87.4" height="2.51" fill="#f01010"/>
<rect x="1857" y="452.79" width="42.5" height="2.51" fill="#c06848"/>
<rect x="1594.6" y="454.95" width="304.9" height="2.01" fill="#ffffff"/>
<rect x="1594.6" y="456.61" width="304.9" height="1.68" fill="#ffd8d8"/>
<rect x="1594.6" y="457.94" width="88.8" height="4.01" fill="#0a0aee"/>
<rect x="1683" y="457.94" width="87.4" height="4.01" fill="#0a0aee"/>
<rect x="1770" y="457.94" width="129.5" height="4.01" fill="#5252ec"/>
<rect x="1594.6" y="461.61" width="88.8" height="3.35" fill="#ffffff"/>
<rect x="1683" y="461.61" width="87.4" height="3.35" fill="#ffffff"/>
<rect x="1770" y="461.61" width="129.5" height="3.35" fill="#fb9696"/>
<rect x="1594.6" y="464.60" width="304.9" height="2.35" fill="#f64848"/>
<rect x="1594.6" y="466.60" width="88.8" height="2.01" fill="#ffd8d8"/>
<rect x="1683" y="466.60" width="87.4" height="2.01" fill="#c4588e"/>
<rect x="1770" y="466.60" width="129.5" height="2.01" fill="#fb9696"/>
<rect x="1594.6" y="468.26" width="88.8" height="6.17" fill="#dadafc"/>
<rect x="1683" y="468.26" width="87.4" height="6.17" fill="#d4c4ea"/>
<rect x="1770" y="468.26" width="129.5" height="6.17" fill="#d4c4ea"/>
<rect x="1594.6" y="474.09" width="304.9" height="1.51" fill="#2a0cc6"/>
<rect x="1594.6" y="475.25" width="88.8" height="2.51" fill="#dadafc"/>
<rect x="1683" y="475.25" width="87.4" height="2.51" fill="#c4588e"/>
<rect x="1770" y="475.25" width="129.5" height="2.51" fill="#c4588e"/>
<rect x="1594.6" y="477.42" width="88.8" height="2.85" fill="#9c9cf8"/>
<rect x="1683" y="477.42" width="87.4" height="2.85" fill="#6a3cc4"/>
<rect x="1770" y="477.42" width="129.5" height="2.85" fill="#6a3cc4"/>
<rect x="1594.6" y="479.91" width="304.9" height="1.68" fill="#ffd8d8"/>
<rect x="1594.6" y="481.24" width="304.9" height="4.01" fill="#f01010"/>
<rect x="1594.6" y="484.90" width="304.9" height="2.35" fill="#fb9696"/>
<rect x="1594.6" y="486.90" width="304.9" height="2.51" fill="#f64848"/>
<rect x="1594.6" y="489.07" width="304.9" height="2.51" fill="#fb9696"/>
<rect x="1594.6" y="491.23" width="88.8" height="3.18" fill="#7a68d8"/>
<rect x="1683" y="491.23" width="87.4" height="3.18" fill="#9a7ad4"/>
<rect x="1770" y="491.23" width="129.5" height="3.18" fill="#9a7ad4"/>
<rect x="1594.6" y="494.06" width="304.9" height="3.68" fill="#fb9696"/>
<rect x="1594.6" y="497.39" width="304.9" height="3.68" fill="#2a0cc6"/>
<rect x="1594.6" y="500.71" width="304.9" height="3.68" fill="#fb9696"/>
<rect x="1594.6" y="504.04" width="304.9" height="3.68" fill="#0a0aee"/>
<rect x="1594.6" y="507.37" width="304.9" height="3.68" fill="#ffd8d8"/>
<rect x="1594.6" y="510.70" width="304.9" height="3.68" fill="#f01010"/>
<rect x="1594.6" y="514.03" width="304.9" height="2.01" fill="#2a0cc6"/>
<rect x="1594.6" y="515.69" width="88.8" height="5.34" fill="#9c9cf8"/>
<rect x="1683" y="515.69" width="87.4" height="5.34" fill="#9c9cf8"/>
<rect x="1770" y="515.69" width="87.4" height="5.34" fill="#9c9cf8"/>
<rect x="1857" y="515.69" width="42.5" height="5.34" fill="#5252ec"/>
<rect x="1594.6" y="520.69" width="304.9" height="2.01" fill="#2a0cc6"/>
<rect x="1594.6" y="522.35" width="304.9" height="4.51" fill="#f01010"/>
<rect x="1594.6" y="526.51" width="304.9" height="2.01" fill="#ffd8d8"/>
<rect x="1594.6" y="528.17" width="88.8" height="3.35" fill="#d4c4ea"/>
<rect x="1683" y="528.17" width="87.4" height="3.35" fill="#ffd8d8"/>
<rect x="1770" y="528.17" width="129.5" height="3.35" fill="#ffffff"/>
<rect x="1594.6" y="531.17" width="304.9" height="3.18" fill="#f01010"/>
<rect x="1594.6" y="534.00" width="304.9" height="2.01" fill="#ffffff"/>
<rect x="1594.6" y="535.66" width="304.9" height="2.01" fill="#ffd8d8"/>
<rect x="1594.6" y="537.33" width="304.9" height="3.01" fill="#f01010"/>
<rect x="1594.6" y="540.00" width="304.9" height="5.01" fill="#fb0000"/>
<rect x="1594.6" y="544.66" width="304.9" height="2.01" fill="#ffd8d8"/>
<rect x="1594.6" y="546.32" width="88.8" height="2.01" fill="#9a7ad4"/>
<rect x="1683" y="546.32" width="87.4" height="2.01" fill="#ffffff"/>
<rect x="1770" y="546.32" width="129.5" height="2.01" fill="#ffd8d8"/>
<rect x="1594.6" y="547.99" width="304.9" height="2.35" fill="#fb9696"/>
<rect x="1594.6" y="549.99" width="88.8" height="4.51" fill="#dadafc"/>
<rect x="1683" y="549.99" width="87.4" height="4.51" fill="#d4c4ea"/>
<rect x="1770" y="549.99" width="129.5" height="4.51" fill="#d4c4ea"/>
<rect x="1594.6" y="554.15" width="304.9" height="4.51" fill="#f01010"/>
<rect x="1594.6" y="558.31" width="88.8" height="2.85" fill="#f01010"/>
<rect x="1683" y="558.31" width="87.4" height="2.85" fill="#f01010"/>
<rect x="1770" y="558.31" width="129.5" height="2.85" fill="#dadafc"/>
<rect x="1594.6" y="560.80" width="88.8" height="4.18" fill="#ffffff"/>
<rect x="1683" y="560.80" width="87.4" height="4.18" fill="#ffffff"/>
<rect x="1770" y="560.80" width="129.5" height="4.18" fill="#dadafc"/>
<rect x="1594.6" y="564.63" width="304.9" height="4.84" fill="#f01010"/>
<rect x="1594.6" y="569.12" width="304.9" height="2.85" fill="#f64848"/>
<rect x="1594.6" y="571.62" width="88.8" height="2.85" fill="#dadafc"/>
<rect x="1683" y="571.62" width="87.4" height="2.85" fill="#dadafc"/>
<rect x="1770" y="571.62" width="129.5" height="2.85" fill="#ffd8d8"/>
<rect x="1594.6" y="574.12" width="88.8" height="3.18" fill="#ffffff"/>
<rect x="1683" y="574.12" width="87.4" height="3.18" fill="#ffffff"/>
<rect x="1770" y="574.12" width="129.5" height="3.18" fill="#ffd8d8"/>
<rect x="1594.6" y="576.95" width="304.9" height="2.01" fill="#f64848"/>
<rect x="1594.6" y="578.61" width="304.9" height="2.51" fill="#ffd8d8"/>
<rect x="1594.6" y="580.77" width="88.8" height="3.18" fill="#9c9cf8"/>
<rect x="1683" y="580.77" width="87.4" height="3.18" fill="#dadafc"/>
<rect x="1770" y="580.77" width="129.5" height="3.18" fill="#d4c4ea"/>
<rect x="1594.6" y="583.60" width="88.8" height="4.68" fill="#ffffff"/>
<rect x="1683" y="583.60" width="87.4" height="4.68" fill="#ffffff"/>
<rect x="1770" y="583.60" width="129.5" height="4.68" fill="#ffd8d8"/>
<rect x="1594.6" y="587.93" width="88.8" height="2.68" fill="#5252ec"/>
<rect x="1683" y="587.93" width="87.4" height="2.68" fill="#5252ec"/>
<rect x="1770" y="587.93" width="129.5" height="2.68" fill="#9c9cf8"/>
<rect x="1594.6" y="590.26" width="304.9" height="2.01" fill="#ffd8d8"/>
<rect x="1594.6" y="591.92" width="304.9" height="2.51" fill="#f01010"/>
<rect x="1594.6" y="594.09" width="304.9" height="2.85" fill="#d4c4ea"/>
<rect x="1594.6" y="596.58" width="304.9" height="4.01" fill="#f64848"/>
<rect x="1594.6" y="600.24" width="304.9" height="4.18" fill="#ffd8d8"/>
<rect x="1594.6" y="604.07" width="304.9" height="3.68" fill="#f01010"/>
<rect x="1594.6" y="607.40" width="304.9" height="3.68" fill="#6a3cc4"/>
<rect x="1594.6" y="610.73" width="304.9" height="3.68" fill="#2a0cc6"/>
<rect x="1594.6" y="614.06" width="304.9" height="3.68" fill="#f64848"/>
<rect x="1594.6" y="617.39" width="304.9" height="3.68" fill="#f01010"/>
<rect x="1594.6" y="620.71" width="304.9" height="2.85" fill="#fb9696"/>
<rect x="1594.6" y="623.21" width="304.9" height="10.34" fill="#fb0000"/>
<rect x="1594.6" y="633.20" width="304.9" height="2.01" fill="#f01010"/>
<rect x="1594.6" y="634.86" width="88.8" height="2.85" fill="#fb9696"/>
<rect x="1683" y="634.86" width="87.4" height="2.85" fill="#f64848"/>
<rect x="1770" y="634.86" width="129.5" height="2.85" fill="#f01010"/>
<rect x="1594.6" y="637.36" width="304.9" height="3.68" fill="#f01010"/>
<rect x="1594.6" y="640.69" width="88.8" height="4.51" fill="#2a0cc6"/>
<rect x="1683" y="640.69" width="87.4" height="4.51" fill="#2a0cc6"/>
<rect x="1770" y="640.69" width="129.5" height="4.51" fill="#6a3cc4"/>
<rect x="1594.6" y="644.85" width="304.9" height="4.51" fill="#0a0aee"/>
<rect x="1594.6" y="649.01" width="88.8" height="2.85" fill="#5252ec"/>
<rect x="1683" y="649.01" width="87.4" height="2.85" fill="#5252ec"/>
<rect x="1770" y="649.01" width="129.5" height="2.85" fill="#9c9cf8"/>
<rect x="1594.6" y="651.50" width="304.9" height="3.35" fill="#2a0cc6"/>
<rect x="1594.6" y="654.50" width="304.9" height="5.84" fill="#f01010"/>
<rect x="1594.6" y="660.00" width="88.8" height="5.01" fill="#f64848"/>
<rect x="1683" y="660.00" width="87.4" height="5.01" fill="#f64848"/>
<rect x="1770" y="660.00" width="129.5" height="5.01" fill="#f01010"/>
<rect x="1594.6" y="664.66" width="304.9" height="2.35" fill="#ffd8d8"/>
<rect x="1594.6" y="666.66" width="304.9" height="4.01" fill="#ffffff"/>
<rect x="1594.6" y="670.32" width="304.9" height="1.68" fill="#f64848"/>
<rect x="1594.6" y="671.65" width="88.8" height="3.68" fill="#7a68d8"/>
<rect x="1683" y="671.65" width="87.4" height="3.68" fill="#7a68d8"/>
<rect x="1770" y="671.65" width="129.5" height="3.68" fill="#6a3cc4"/>
<rect x="1594.6" y="674.98" width="304.9" height="2.01" fill="#d81a3a"/>
<rect x="1594.6" y="676.64" width="44.8" height="4.51" fill="#8a8888"/>
<rect x="1639" y="676.64" width="131.4" height="4.51" fill="#f01010"/>
<rect x="1770" y="676.64" width="44.4" height="4.51" fill="#8a8888"/>
<rect x="1814" y="676.64" width="85.5" height="4.51" fill="#f01010"/>
<rect x="1594.6" y="680.80" width="304.9" height="2.85" fill="#ffd8d8"/>
<rect x="1594.6" y="683.30" width="304.9" height="4.51" fill="#fb9696"/>
<rect x="1594.6" y="687.46" width="304.9" height="3.68" fill="#f64848"/>
<rect x="1594.6" y="690.79" width="304.9" height="2.85" fill="#f01010"/>
<rect x="1594.6" y="693.28" width="88.8" height="4.01" fill="#dadafc"/>
<rect x="1683" y="693.28" width="87.4" height="4.01" fill="#ffffff"/>
<rect x="1770" y="693.28" width="129.5" height="4.01" fill="#ffffff"/>
<rect x="1594.6" y="696.95" width="88.8" height="4.18" fill="#dadafc"/>
<rect x="1683" y="696.95" width="87.4" height="4.18" fill="#dadafc"/>
<rect x="1770" y="696.95" width="129.5" height="4.18" fill="#ffffff"/>
<rect x="1594.6" y="700.77" width="304.9" height="2.51" fill="#ffffff"/>
<rect x="1594.6" y="702.94" width="304.9" height="2.01" fill="#ffd8d8"/>
<rect x="1594.6" y="704.60" width="304.9" height="2.35" fill="#f64848"/>
<rect x="1594.6" y="706.60" width="304.9" height="3.68" fill="#6a3cc4"/>
<rect x="1594.6" y="709.93" width="304.9" height="2.01" fill="#c4588e"/>
<rect x="1594.6" y="711.59" width="304.9" height="2.85" fill="#d81a3a"/>
<rect x="1594.6" y="714.09" width="304.9" height="7.01" fill="#0a0aee"/>
<rect x="1594.6" y="720.74" width="304.9" height="1.51" fill="#dadafc"/>
<rect x="1594.6" y="721.91" width="304.9" height="5.01" fill="#0a0aee"/>
<rect x="1594.6" y="726.57" width="88.8" height="5.34" fill="#ffffff"/>
<rect x="1683" y="726.57" width="87.4" height="5.34" fill="#9c9cf8"/>
<rect x="1770" y="726.57" width="129.5" height="5.34" fill="#dadafc"/>
<rect x="1594.6" y="731.56" width="88.8" height="2.35" fill="#5252ec"/>
<rect x="1683" y="731.56" width="87.4" height="2.35" fill="#dadafc"/>
<rect x="1770" y="731.56" width="129.5" height="2.35" fill="#dadafc"/>
<rect x="1594.6" y="733.56" width="304.9" height="2.01" fill="#dadafc"/>
<rect x="1594.6" y="735.22" width="304.9" height="2.51" fill="#2a0cc6"/>
<rect x="1594.6" y="737.39" width="304.9" height="2.85" fill="#ffffff"/>
<rect x="1594.6" y="739.88" width="304.9" height="2.35" fill="#f64848"/>
<rect x="1594.6" y="741.88" width="304.9" height="3.01" fill="#ffffff"/>
<rect x="1594.6" y="744.54" width="304.9" height="3.18" fill="#0a0aee"/>
<rect x="1594.6" y="747.37" width="304.9" height="2.01" fill="#ffd8d8"/>
<rect x="1594.6" y="749.04" width="304.9" height="2.51" fill="#f01010"/>
<rect x="1594.6" y="751.20" width="304.9" height="2.68" fill="#d4c4ea"/>
<rect x="1594.6" y="753.53" width="304.9" height="2.01" fill="#d81a3a"/>
<rect x="1594.6" y="755.19" width="304.9" height="5.01" fill="#f64848"/>
<rect x="1594.6" y="759.85" width="304.9" height="2.35" fill="#fb9696"/>
<rect x="1594.6" y="761.85" width="304.9" height="8.34" fill="#fb0000"/>
<rect x="1594.6" y="769.84" width="88.8" height="4.51" fill="#2a0cc6"/>
<rect x="1683" y="769.84" width="87.4" height="4.51" fill="#6a3cc4"/>
<rect x="1770" y="769.84" width="129.5" height="4.51" fill="#6a3cc4"/>
<rect x="1594.6" y="774.00" width="304.9" height="6.34" fill="#0a0aee"/>
<rect x="1594.6" y="780.00" width="304.9" height="2.01" fill="#6a3cc4"/>
<rect x="1594.6" y="781.66" width="88.8" height="2.85" fill="#9c9cf8"/>
<rect x="1683" y="781.66" width="87.4" height="2.85" fill="#5252ec"/>
<rect x="1770" y="781.66" width="129.5" height="2.85" fill="#5252ec"/>
<rect x="1594.6" y="784.16" width="304.9" height="2.85" fill="#0a0aee"/>
<rect x="1594.6" y="786.66" width="304.9" height="2.35" fill="#6a3cc4"/>
<rect x="1594.6" y="788.65" width="304.9" height="5.34" fill="#0a0aee"/>
<rect x="1594.6" y="793.65" width="88.8" height="4.34" fill="#f01010"/>
<rect x="1683" y="793.65" width="87.4" height="4.34" fill="#f01010"/>
<rect x="1770" y="793.65" width="129.5" height="4.34" fill="#ffd8d8"/>
<rect x="1594.6" y="797.64" width="88.8" height="1.02" fill="#f01010"/>
<rect x="1683" y="797.64" width="87.4" height="1.02" fill="#f01010"/>
<rect x="1770" y="797.64" width="129.5" height="1.02" fill="#f64848"/>
<rect x="1594.6" y="798.31" width="88.8" height="2.85" fill="#fb9696"/>
<rect x="1683" y="798.31" width="87.4" height="2.85" fill="#fb9696"/>
<rect x="1770" y="798.31" width="129.5" height="2.85" fill="#f01010"/>
<rect x="1594.6" y="800.80" width="304.9" height="2.85" fill="#f01010"/>
<rect x="1594.6" y="803.30" width="304.9" height="2.01" fill="#6a3cc4"/>
<rect x="1594.6" y="804.96" width="88.8" height="2.85" fill="#d4c4ea"/>
<rect x="1683" y="804.96" width="87.4" height="2.85" fill="#dadafc"/>
<rect x="1770" y="804.96" width="129.5" height="2.85" fill="#ffffff"/>
<rect x="1594.6" y="807.46" width="88.8" height="2.85" fill="#d81a3a"/>
<rect x="1683" y="807.46" width="87.4" height="2.85" fill="#d81a3a"/>
<rect x="1770" y="807.46" width="129.5" height="2.85" fill="#f01010"/>
<rect x="1594.6" y="809.96" width="304.9" height="6.67" fill="#0a0aee"/>
<rect x="1594.6" y="816.28" width="88.8" height="2.01" fill="#ffd8d8"/>
<rect x="1683" y="816.28" width="87.4" height="2.01" fill="#ffd8d8"/>
<rect x="1770" y="816.28" width="129.5" height="2.01" fill="#ffffff"/>
<rect x="1594.6" y="817.94" width="88.8" height="3.18" fill="#f64848"/>
<rect x="1683" y="817.94" width="87.4" height="3.18" fill="#f64848"/>
<rect x="1770" y="817.94" width="129.5" height="3.18" fill="#fb9696"/>
<rect x="1594.6" y="820.77" width="304.9" height="2.85" fill="#ffd8d8"/>
<rect x="1594.6" y="823.27" width="304.9" height="7.84" fill="#0a0aee"/>
<rect x="1594.6" y="830.76" width="304.9" height="1.51" fill="#6a3cc4"/>
<rect x="1594.6" y="831.92" width="304.9" height="2.51" fill="#d81a3a"/>
<rect x="1594.6" y="834.09" width="304.9" height="2.85" fill="#2a0cc6"/>
<rect x="1594.6" y="836.58" width="304.9" height="1.68" fill="#dadafc"/>
<rect x="1594.6" y="837.91" width="304.9" height="5.68" fill="#0a0aee"/>
<rect x="1594.6" y="843.24" width="304.9" height="2.35" fill="#7a68d8"/>
<rect x="1594.6" y="845.24" width="88.8" height="2.51" fill="#dadafc"/>
<rect x="1683" y="845.24" width="87.4" height="2.51" fill="#9c9cf8"/>
<rect x="1770" y="845.24" width="129.5" height="2.51" fill="#9c9cf8"/>
<rect x="1594.6" y="847.40" width="88.8" height="2.85" fill="#ffffff"/>
<rect x="1683" y="847.40" width="87.4" height="2.85" fill="#dadafc"/>
<rect x="1770" y="847.40" width="129.5" height="2.85" fill="#dadafc"/>
<rect x="1594.6" y="849.90" width="304.9" height="4.51" fill="#f01010"/>
<rect x="1594.6" y="854.06" width="304.9" height="2.85" fill="#ffd8d8"/>
<rect x="1594.6" y="856.55" width="304.9" height="2.85" fill="#5252ec"/>
<rect x="1594.6" y="859.05" width="304.9" height="4.51" fill="#0a0aee"/>
<rect x="1594.6" y="863.21" width="304.9" height="2.01" fill="#2a0cc6"/>
<rect x="1594.6" y="864.88" width="88.8" height="3.35" fill="#6a3cc4"/>
<rect x="1683" y="864.88" width="87.4" height="3.35" fill="#9a7ad4"/>
<rect x="1770" y="864.88" width="129.5" height="3.35" fill="#9a7ad4"/>
<rect x="1594.6" y="867.87" width="304.9" height="6.51" fill="#fb0000"/>
<rect x="1594.6" y="874.03" width="88.8" height="3.68" fill="#fb9696"/>
<rect x="1683" y="874.03" width="87.4" height="3.68" fill="#f01010"/>
<rect x="1770" y="874.03" width="129.5" height="3.68" fill="#f01010"/>
<rect x="1594.6" y="877.36" width="304.9" height="2.85" fill="#ffffff"/>
<rect x="1594.6" y="879.85" width="304.9" height="4.01" fill="#2a0cc6"/>
<rect x="1594.6" y="883.51" width="304.9" height="4.18" fill="#f01010"/>
<rect x="1594.6" y="887.34" width="304.9" height="2.85" fill="#ffffff"/>
<rect x="1594.6" y="889.84" width="304.9" height="4.51" fill="#0a0aee"/>
<rect x="1594.6" y="894.00" width="88.8" height="3.68" fill="#dadafc"/>
<rect x="1683" y="894.00" width="87.4" height="3.68" fill="#fb9696"/>
<rect x="1770" y="894.00" width="129.5" height="3.68" fill="#f64848"/>
<rect x="1594.6" y="897.33" width="304.9" height="3.01" fill="#f01010"/>
<rect x="1594.6" y="900.00" width="304.9" height="4.01" fill="#f01010"/>
<rect x="1594.6" y="903.66" width="304.9" height="8.34" fill="#0a0aee"/>
<rect x="1594.6" y="911.65" width="304.9" height="3.35" fill="#d81a3a"/>
<rect x="1594.6" y="914.65" width="88.8" height="3.68" fill="#5252ec"/>
<rect x="1683" y="914.65" width="87.4" height="3.68" fill="#5252ec"/>
<rect x="1770" y="914.65" width="129.5" height="3.68" fill="#9c9cf8"/>
<rect x="1594.6" y="917.97" width="88.8" height="3.18" fill="#ffd8d8"/>
<rect x="1683" y="917.97" width="87.4" height="3.18" fill="#ffd8d8"/>
<rect x="1770" y="917.97" width="129.5" height="3.18" fill="#fb9696"/>
<rect x="1594.6" y="920.80" width="88.8" height="3.68" fill="#f01010"/>
<rect x="1683" y="920.80" width="87.4" height="3.68" fill="#f01010"/>
<rect x="1770" y="920.80" width="129.5" height="3.68" fill="#f64848"/>
<rect x="1594.6" y="924.13" width="88.8" height="2.85" fill="#d4c4ea"/>
<rect x="1683" y="924.13" width="87.4" height="2.85" fill="#9a7ad4"/>
<rect x="1770" y="924.13" width="129.5" height="2.85" fill="#9a7ad4"/>
<rect x="1594.6" y="926.63" width="304.9" height="3.68" fill="#f01010"/>
<rect x="1594.6" y="929.96" width="88.8" height="3.35" fill="#f64848"/>
<rect x="1683" y="929.96" width="87.4" height="3.35" fill="#f01010"/>
<rect x="1770" y="929.96" width="129.5" height="3.35" fill="#f01010"/>
<rect x="1594.6" y="932.95" width="304.9" height="7.34" fill="#fb0000"/>
<rect x="1594.6" y="939.94" width="88.8" height="4.01" fill="#ffffff"/>
<rect x="1683" y="939.94" width="87.4" height="4.01" fill="#ffd8d8"/>
<rect x="1770" y="939.94" width="129.5" height="4.01" fill="#fb9696"/>
<rect x="1594.6" y="943.60" width="304.9" height="3.35" fill="#f01010"/>
<rect x="1594.6" y="946.60" width="304.9" height="3.68" fill="#c4588e"/>
<rect x="1594.6" y="949.93" width="304.9" height="3.35" fill="#2a0cc6"/>
<rect x="1594.6" y="952.92" width="304.9" height="3.18" fill="#9c9cf8"/>
<rect x="1594.6" y="955.75" width="88.8" height="2.51" fill="#6a3cc4"/>
<rect x="1683" y="955.75" width="87.4" height="2.51" fill="#c4588e"/>
<rect x="1770" y="955.75" width="129.5" height="2.51" fill="#c4588e"/>
<rect x="1594.6" y="957.91" width="304.9" height="6.51" fill="#f01010"/>
<rect x="1594.6" y="964.07" width="304.9" height="2.51" fill="#ffffff"/>
<rect x="1594.6" y="966.24" width="304.9" height="6.51" fill="#f01010"/>
<rect x="1594.6" y="972.39" width="304.9" height="2.85" fill="#fb9696"/>
<rect x="1594.6" y="974.89" width="304.9" height="2.35" fill="#ffd8d8"/>
<rect x="1594.6" y="976.89" width="304.9" height="2.51" fill="#f01010"/>
<rect x="1594.6" y="979.05" width="304.9" height="2.51" fill="#2a0cc6"/>
<rect x="1594.6" y="981.21" width="304.9" height="3.18" fill="#fb9696"/>
<rect x="1594.6" y="984.04" width="88.8" height="3.68" fill="#9a7ad4"/>
<rect x="1683" y="984.04" width="87.4" height="3.68" fill="#d4c4ea"/>
<rect x="1770" y="984.04" width="129.5" height="3.68" fill="#d4c4ea"/>
<rect x="1594.6" y="987.37" width="88.8" height="6.17" fill="#ffd8d8"/>
<rect x="1683" y="987.37" width="87.4" height="6.17" fill="#fb9696"/>
<rect x="1770" y="987.37" width="129.5" height="6.17" fill="#fb9696"/>
<rect x="1594.6" y="993.20" width="304.9" height="2.01" fill="#ffffff"/>
<rect x="1594.6" y="994.86" width="88.8" height="3.35" fill="#5252ec"/>
<rect x="1683" y="994.86" width="87.4" height="3.35" fill="#2a0cc6"/>
<rect x="1770" y="994.86" width="129.5" height="3.35" fill="#2a0cc6"/>
<rect x="1594.6" y="997.86" width="304.9" height="2.35" fill="#ffffff"/>
<rect x="1594.6" y="999.85" width="304.9" height="2.35" fill="#5252ec"/>
<rect x="1594.6" y="1001.85" width="88.8" height="5.01" fill="#fb9696"/>
<rect x="1683" y="1001.85" width="87.4" height="5.01" fill="#f64848"/>
<rect x="1770" y="1001.85" width="87.4" height="5.01" fill="#fb9696"/>
<rect x="1857" y="1001.85" width="42.5" height="5.01" fill="#ffd8d8"/>
<rect x="1594.6" y="1006.51" width="88.8" height="8.67" fill="#f01010"/>
<rect x="1683" y="1006.51" width="87.4" height="8.67" fill="#f01010"/>
<rect x="1770" y="1006.51" width="129.5" height="8.67" fill="#fb0000"/>
<rect x="1594.6" y="1014.83" width="88.8" height="2.85" fill="#ffffff"/>
<rect x="1683" y="1014.83" width="87.4" height="2.85" fill="#ffffff"/>
<rect x="1770" y="1014.83" width="129.5" height="2.85" fill="#ffd8d8"/>
<rect x="1594.6" y="1017.33" width="304.9" height="3.01" fill="#dadafc"/>
<rect x="1594.6" y="1020.00" width="88.8" height="2.01" fill="#c4588e"/>
<rect x="1683" y="1020.00" width="87.4" height="2.01" fill="#f64848"/>
<rect x="1770" y="1020.00" width="129.5" height="2.01" fill="#f64848"/>
<rect x="1594.6" y="1021.66" width="88.8" height="2.85" fill="#dadafc"/>
<rect x="1683" y="1021.66" width="87.4" height="2.85" fill="#ffffff"/>
<rect x="1770" y="1021.66" width="129.5" height="2.85" fill="#ffffff"/>
<rect x="1594.6" y="1024.16" width="88.8" height="6.51" fill="#ffd8d8"/>
<rect x="1683" y="1024.16" width="87.4" height="6.51" fill="#ffd8d8"/>
<rect x="1770" y="1024.16" width="129.5" height="6.51" fill="#fb9696"/>
<rect x="1594.6" y="1030.32" width="88.8" height="4.18" fill="#9a7ad4"/>
<rect x="1683" y="1030.32" width="87.4" height="4.18" fill="#9a7ad4"/>
<rect x="1770" y="1030.32" width="129.5" height="4.18" fill="#9a7ad4"/>
<rect x="1594.6" y="1034.15" width="304.9" height="1.51" fill="#ffd8d8"/>
<rect x="1594.6" y="1035.31" width="304.9" height="1.68" fill="#f64848"/>
<rect x="1594.6" y="1036.64" width="304.9" height="1.68" fill="#ffffff"/>
<rect x="1594.6" y="1037.97" width="304.9" height="3.18" fill="#f01010"/>
<rect x="1594.6" y="1040.80" width="304.9" height="1.51" fill="#fb9696"/>
<rect x="1594.6" y="1041.97" width="304.9" height="2.51" fill="#f01010"/>
<rect x="1594.6" y="1044.13" width="88.8" height="2.85" fill="#ffd8d8"/>
<rect x="1683" y="1044.13" width="87.4" height="2.85" fill="#ffd8d8"/>
<rect x="1770" y="1044.13" width="129.5" height="2.85" fill="#ffffff"/>
<rect x="1594.6" y="1046.63" width="304.9" height="7.84" fill="#0a0aee"/>
<rect x="1594.6" y="1054.12" width="304.9" height="4.18" fill="#f01010"/>
<rect x="1594.6" y="1057.94" width="304.9" height="2.68" fill="#7a68d8"/>
<rect x="1594.6" y="1060.27" width="304.9" height="2.51" fill="#d81a3a"/>
<rect x="1594.6" y="1062.44" width="88.8" height="2.51" fill="#d4c4ea"/>
<rect x="1683" y="1062.44" width="87.4" height="2.51" fill="#f64848"/>
<rect x="1770" y="1062.44" width="129.5" height="2.51" fill="#f64848"/>
<rect x="1594.6" y="1064.60" width="88.8" height="2.35" fill="#fb9696"/>
<rect x="1683" y="1064.60" width="87.4" height="2.35" fill="#c4588e"/>
<rect x="1770" y="1064.60" width="129.5" height="2.35" fill="#fb9696"/>
<rect x="1594.6" y="1066.60" width="88.8" height="2.85" fill="#5252ec"/>
<rect x="1683" y="1066.60" width="87.4" height="2.85" fill="#6a3cc4"/>
<rect x="1770" y="1066.60" width="129.5" height="2.85" fill="#2a0cc6"/>
<rect x="1594.6" y="1069.09" width="88.8" height="5.34" fill="#dadafc"/>
<rect x="1683" y="1069.09" width="87.4" height="5.34" fill="#ffffff"/>
<rect x="1770" y="1069.09" width="129.5" height="5.34" fill="#ffffff"/>
<rect x="1594.6" y="1074.09" width="88.8" height="2.51" fill="#9c9cf8"/>
<rect x="1683" y="1074.09" width="87.4" height="2.51" fill="#dadafc"/>
<rect x="1770" y="1074.09" width="129.5" height="2.51" fill="#dadafc"/>
<rect x="1594.6" y="1076.25" width="304.9" height="1.51" fill="#d81a3a"/>
<rect x="1594.6" y="1077.42" width="88.8" height="3.18" fill="#2a0cc6"/>
<rect x="1683" y="1077.42" width="87.4" height="3.18" fill="#2a0cc6"/>
<rect x="1770" y="1077.42" width="129.5" height="3.18" fill="#6a3cc4"/>
<rect x="1594.6" y="1080.24" width="304.9" height="3.01" fill="#d81a3a"/>
<rect x="1594.6" y="1082.91" width="304.9" height="1.51" fill="#ffd8d8"/>
<rect x="1594.6" y="1084.07" width="88.8" height="3.18" fill="#0a0aee"/>
<rect x="1683" y="1084.07" width="87.4" height="3.18" fill="#0a0aee"/>
<rect x="1770" y="1084.07" width="129.5" height="3.18" fill="#5252ec"/>
<rect x="1594.6" y="1086.90" width="304.9" height="2.01" fill="#ffffff"/>
<rect x="1594.6" y="1088.57" width="304.9" height="1.68" fill="#dadafc"/>
<rect x="1594.6" y="1089.90" width="304.9" height="4.51" fill="#0a0aee"/>
<rect x="1594.6" y="1094.06" width="304.9" height="4.51" fill="#f01010"/>
<rect x="1594.6" y="1098.22" width="304.9" height="2.85" fill="#fb9696"/>
<rect x="1594.6" y="1100.71" width="304.9" height="3.68" fill="#5252ec"/>
<rect x="1594.6" y="1104.04" width="304.9" height="2.85" fill="#fb9696"/>
<rect x="1594.6" y="1106.54" width="88.8" height="3.68" fill="#ffd8d8"/>
<rect x="1683" y="1106.54" width="87.4" height="3.68" fill="#ffd8d8"/>
<rect x="1770" y="1106.54" width="129.5" height="3.68" fill="#fb9696"/>
<rect x="1594.6" y="1109.87" width="304.9" height="2.35" fill="#d4c4ea"/>
<rect x="1594.6" y="1111.86" width="304.9" height="2.51" fill="#fb9696"/>
<rect x="1594.6" y="1114.03" width="304.9" height="4.51" fill="#f01010"/>
<rect x="1594.6" y="1118.19" width="304.9" height="5.01" fill="#0a0aee"/>
<rect x="1594.6" y="1122.85" width="304.9" height="2.35" fill="#dadafc"/>
<rect x="1594.6" y="1124.85" width="88.8" height="5.68" fill="#0a0aee"/>
<rect x="1683" y="1124.85" width="87.4" height="5.68" fill="#0a0aee"/>
<rect x="1770" y="1124.85" width="129.5" height="5.68" fill="#5252ec"/>
<rect x="1594.6" y="1130.17" width="304.9" height="2.51" fill="#c4588e"/>
<rect x="1594.6" y="1132.33" width="88.8" height="4.51" fill="#9c9cf8"/>
<rect x="1683" y="1132.33" width="87.4" height="4.51" fill="#dadafc"/>
<rect x="1770" y="1132.33" width="129.5" height="4.51" fill="#dadafc"/>
<rect x="1594.6" y="1136.50" width="304.9" height="1.47" fill="#ffd8d8"/>
<rect x="1594.6" y="1137.61" width="304.9" height="1.02" fill="#ffd8d8"/>
<rect x="1594.6" y="1138.28" width="304.9" height="2.85" fill="#f01010"/>
<rect x="1594.6" y="1140.77" width="88.8" height="3.18" fill="#6a3cc4"/>
<rect x="1683" y="1140.77" width="87.4" height="3.18" fill="#6a3cc4"/>
<rect x="1770" y="1140.77" width="129.5" height="3.18" fill="#c4588e"/>
<rect x="1594.6" y="1143.60" width="88.8" height="1.35" fill="#f01010"/>
<rect x="1683" y="1143.60" width="87.4" height="1.35" fill="#f01010"/>
<rect x="1770" y="1143.60" width="129.5" height="1.35" fill="#d4c4ea"/>
<rect x="1594.6" y="1144.60" width="304.9" height="2.68" fill="#f01010"/>
<rect x="1594.6" y="1146.93" width="304.9" height="3.01" fill="#ffffff"/>
<rect x="1594.6" y="1149.59" width="304.9" height="2.01" fill="#5252ec"/>
<rect x="1594.6" y="1151.26" width="88.8" height="2.68" fill="#fb9696"/>
<rect x="1683" y="1151.26" width="87.4" height="2.68" fill="#fb9696"/>
<rect x="1770" y="1151.26" width="129.5" height="2.68" fill="#ffffff"/>
<rect x="1594.6" y="1153.59" width="88.8" height="2.51" fill="#fb9696"/>
<rect x="1683" y="1153.59" width="87.4" height="2.51" fill="#fb9696"/>
<rect x="1770" y="1153.59" width="129.5" height="2.51" fill="#f64848"/>
<rect x="1594.6" y="1155.75" width="88.8" height="2.51" fill="#f64848"/>
<rect x="1683" y="1155.75" width="87.4" height="2.51" fill="#f64848"/>
<rect x="1770" y="1155.75" width="129.5" height="2.51" fill="#f01010"/>
<rect x="1594.6" y="1157.91" width="304.9" height="2.35" fill="#dadafc"/>
<rect x="1594.6" y="1159.91" width="88.8" height="2.35" fill="#5252ec"/>
<rect x="1683" y="1159.91" width="87.4" height="2.35" fill="#9c9cf8"/>
<rect x="1770" y="1159.91" width="129.5" height="2.35" fill="#dadafc"/>
<rect x="1594.6" y="1161.91" width="88.8" height="1.68" fill="#9c9cf8"/>
<rect x="1683" y="1161.91" width="87.4" height="1.68" fill="#9c9cf8"/>
<rect x="1770" y="1161.91" width="129.5" height="1.68" fill="#dadafc"/>
<rect x="1594.6" y="1163.24" width="304.9" height="2.01" fill="#5252ec"/>
</g>
<rect x="1924.7" y="993" width="4.6" height="174" fill="url(#lg)"/>
<path d="M1939 993V1167" stroke="#8a8a8a" stroke-width="1"/>
<path d="M1939 994h2.2M1939 1008.3h2.2M1939 1022.7h2.2M1939 1037h2.2M1939 1051.3h2.2M1939 1065.7h2.2M1939 1080h2.2M1939 1094.3h2.2M1939 1108.7h2.2M1939 1123h2.2M1939 1137.3h2.2M1939 1151.7h2.2M1939 1166h2.2" stroke="#8a8a8a" stroke-width="0.9"/>
<path d="M1929.5 1007.6H1939" stroke="#777" stroke-width="0.8"/>
<path d="M1929.5 1080H1939" stroke="#777" stroke-width="0.8"/>
<path d="M1929.5 1150H1939" stroke="#777" stroke-width="0.8"/>
<rect x="1942" y="993.4" width="3.2" height="1.3" fill="#bdbdbd"/>
<rect x="1942" y="1007.7" width="2.4" height="1.3" fill="#bdbdbd"/>
<rect x="1942" y="1022.1" width="3.2" height="1.3" fill="#bdbdbd"/>
<rect x="1942" y="1036.4" width="2.4" height="1.3" fill="#bdbdbd"/>
<rect x="1942" y="1050.7" width="3.2" height="1.3" fill="#bdbdbd"/>
<rect x="1942" y="1065.1" width="2.4" height="1.3" fill="#bdbdbd"/>
<rect x="1942" y="1079.4" width="3.2" height="1.3" fill="#bdbdbd"/>
<rect x="1942" y="1093.7" width="2.4" height="1.3" fill="#bdbdbd"/>
<rect x="1942" y="1108.1" width="3.2" height="1.3" fill="#bdbdbd"/>
<rect x="1942" y="1122.4" width="2.4" height="1.3" fill="#bdbdbd"/>
<rect x="1942" y="1136.7" width="3.2" height="1.3" fill="#bdbdbd"/>
<rect x="1942" y="1151.1" width="2.4" height="1.3" fill="#bdbdbd"/>
<rect x="1942" y="1165.4" width="3.2" height="1.3" fill="#bdbdbd"/>
</g>
<g id="E">
<rect x="45.2" y="1185.8" width="12" height="12" fill="#ee7422"/>
<text x="58.9" y="1198.3" font-size="14.6" fill="#1f1f1f" textLength="105" lengthAdjust="spacingAndGlyphs" >Positive <tspan font-style="italic">z</tspan>-score</text>
<rect x="170.9" y="1186.1" width="11.4" height="11.4" fill="#fbfbfb" stroke="#e2e2e2" stroke-width="0.8"/>
<text x="185" y="1198.3" font-size="14.6" fill="#1f1f1f" textLength="74.4" lengthAdjust="spacingAndGlyphs" ><tspan font-style="italic">z</tspan>-score = 0</text>
<rect x="265.5" y="1185.8" width="12" height="12" fill="#1212e0"/>
<text x="278.2" y="1198.3" font-size="14.6" fill="#1f1f1f" textLength="111.7" lengthAdjust="spacingAndGlyphs" >Negative <tspan font-style="italic">z</tspan>-score</text>
<rect x="396.8" y="1185.8" width="11.8" height="12" fill="#bcbcbc"/>
<text x="410.1" y="1198.3" font-size="14.6" fill="#1f1f1f" textLength="187.8" lengthAdjust="spacingAndGlyphs" >No activity pattern available</text>
<text x="1183.3" y="1226" font-size="14.8" fill="#3a3a3a" textLength="94.2" lengthAdjust="spacingAndGlyphs" >−Log(<tspan font-style="italic">P</tspan> value)</text>
<g font-size="14.8" fill="#3d3d3d" text-anchor="middle">
<text x="428" y="1247.5" textLength="20.5" lengthAdjust="spacingAndGlyphs">0.0</text>
<text x="460.7" y="1247.5" textLength="20.5" lengthAdjust="spacingAndGlyphs">0.1</text>
<text x="493.4" y="1247.5" textLength="20.5" lengthAdjust="spacingAndGlyphs">0.2</text>
<text x="526.1" y="1247.5" textLength="20.5" lengthAdjust="spacingAndGlyphs">0.3</text>
<text x="558.8" y="1247.5" textLength="20.5" lengthAdjust="spacingAndGlyphs">0.4</text>
<text x="591.5" y="1247.5" textLength="20.5" lengthAdjust="spacingAndGlyphs">0.5</text>
<text x="624.1" y="1247.5" textLength="20.5" lengthAdjust="spacingAndGlyphs">0.6</text>
<text x="656.8" y="1247.5" textLength="20.5" lengthAdjust="spacingAndGlyphs">0.7</text>
<text x="689.5" y="1247.5" textLength="20.5" lengthAdjust="spacingAndGlyphs">0.8</text>
<text x="722.2" y="1247.5" textLength="20.5" lengthAdjust="spacingAndGlyphs">0.9</text>
<text x="754.9" y="1247.5" textLength="20.5" lengthAdjust="spacingAndGlyphs">1.0</text>
<text x="787.6" y="1247.5" textLength="20.5" lengthAdjust="spacingAndGlyphs">1.1</text>
<text x="820.3" y="1247.5" textLength="20.5" lengthAdjust="spacingAndGlyphs">1.2</text>
<text x="853" y="1247.5" textLength="20.5" lengthAdjust="spacingAndGlyphs">1.3</text>
<text x="885.7" y="1247.5" textLength="20.5" lengthAdjust="spacingAndGlyphs">1.4</text>
<text x="918.4" y="1247.5" textLength="20.5" lengthAdjust="spacingAndGlyphs">1.5</text>
<text x="951" y="1247.5" textLength="20.5" lengthAdjust="spacingAndGlyphs">1.6</text>
<text x="983.7" y="1247.5" textLength="20.5" lengthAdjust="spacingAndGlyphs">1.7</text>
<text x="1016.4" y="1247.5" textLength="20.5" lengthAdjust="spacingAndGlyphs">1.8</text>
<text x="1049.1" y="1247.5" textLength="20.5" lengthAdjust="spacingAndGlyphs">1.9</text>
<text x="1081.8" y="1247.5" textLength="20.5" lengthAdjust="spacingAndGlyphs">2.0</text>
<text x="1114.5" y="1247.5" textLength="20.5" lengthAdjust="spacingAndGlyphs">2.1</text>
<text x="1147.2" y="1247.5" textLength="20.5" lengthAdjust="spacingAndGlyphs">2.2</text>
<text x="1179.9" y="1247.5" textLength="20.5" lengthAdjust="spacingAndGlyphs">2.3</text>
<text x="1212.6" y="1247.5" textLength="20.5" lengthAdjust="spacingAndGlyphs">2.4</text>
<text x="1245.2" y="1247.5" textLength="20.5" lengthAdjust="spacingAndGlyphs">2.5</text>
<text x="1277.9" y="1247.5" textLength="20.5" lengthAdjust="spacingAndGlyphs">2.6</text>
<text x="1310.6" y="1247.5" textLength="20.5" lengthAdjust="spacingAndGlyphs">2.7</text>
<text x="1343.3" y="1247.5" textLength="20.5" lengthAdjust="spacingAndGlyphs">2.8</text>
<text x="1376" y="1247.5" textLength="20.5" lengthAdjust="spacingAndGlyphs">2.9</text>
<text x="1408.7" y="1247.5" textLength="20.5" lengthAdjust="spacingAndGlyphs">3.0</text>
<text x="1441.4" y="1247.5" textLength="20.5" lengthAdjust="spacingAndGlyphs">3.1</text>
<text x="1474.1" y="1247.5" textLength="20.5" lengthAdjust="spacingAndGlyphs">3.2</text>
<text x="1506.8" y="1247.5" textLength="20.5" lengthAdjust="spacingAndGlyphs">3.3</text>
<text x="1539.5" y="1247.5" textLength="20.5" lengthAdjust="spacingAndGlyphs">3.4</text>
<text x="1572.1" y="1247.5" textLength="20.5" lengthAdjust="spacingAndGlyphs">3.5</text>
<text x="1604.8" y="1247.5" textLength="20.5" lengthAdjust="spacingAndGlyphs">3.6</text>
<text x="1637.5" y="1247.5" textLength="20.5" lengthAdjust="spacingAndGlyphs">3.7</text>
<text x="1670.2" y="1247.5" textLength="20.5" lengthAdjust="spacingAndGlyphs">3.8</text>
<text x="1702.9" y="1247.5" textLength="20.5" lengthAdjust="spacingAndGlyphs">3.9</text>
<text x="1735.6" y="1247.5" textLength="20.5" lengthAdjust="spacingAndGlyphs">4.0</text>
<text x="1768.3" y="1247.5" textLength="20.5" lengthAdjust="spacingAndGlyphs">4.1</text>
<text x="1801" y="1247.5" textLength="20.5" lengthAdjust="spacingAndGlyphs">4.2</text>
<text x="1833.7" y="1247.5" textLength="20.5" lengthAdjust="spacingAndGlyphs">4.3</text>
<text x="1866.4" y="1247.5" textLength="20.5" lengthAdjust="spacingAndGlyphs">4.4</text>
<text x="1899" y="1247.5" textLength="20.5" lengthAdjust="spacingAndGlyphs">4.5</text>
<text x="1931.7" y="1247.5" textLength="20.5" lengthAdjust="spacingAndGlyphs">4.6</text>
<text x="1964.4" y="1247.5" textLength="20.5" lengthAdjust="spacingAndGlyphs">4.7</text>
<text x="1997.1" y="1247.5" textLength="20.5" lengthAdjust="spacingAndGlyphs">4.8</text>
<text x="2029.8" y="1247.5" textLength="20.5" lengthAdjust="spacingAndGlyphs">4.9</text>
</g>
<path d="M461 1256V1489M493.7 1256V1489M526.4 1256V1489M559.1 1256V1489M591.8 1256V1489M624.4 1256V1489M657.1 1256V1489M689.8 1256V1489M722.5 1256V1489M755.2 1256V1489M787.9 1256V1489M820.6 1256V1489M853.3 1256V1489M886 1256V1489M918.6 1256V1489M951.3 1256V1489M984 1256V1489M1016.7 1256V1489M1049.4 1256V1489M1082.1 1256V1489M1114.8 1256V1489M1147.5 1256V1489M1180.2 1256V1489M1212.9 1256V1489M1245.5 1256V1489M1278.2 1256V1489M1310.9 1256V1489M1343.6 1256V1489M1376.3 1256V1489M1409 1256V1489M1441.7 1256V1489M1474.4 1256V1489M1507.1 1256V1489M1539.8 1256V1489M1572.4 1256V1489M1605.1 1256V1489M1637.8 1256V1489M1670.5 1256V1489M1703.2 1256V1489M1735.9 1256V1489M1768.6 1256V1489M1801.3 1256V1489M1834 1256V1489M1866.7 1256V1489M1899.3 1256V1489M1932 1256V1489M1964.7 1256V1489M1997.4 1256V1489M2030.1 1256V1489" stroke="#f7f7f7" stroke-width="1"/>
<path d="M428.3 1489V1256H2040.3V1489" fill="none" stroke="#dcdcdc" stroke-width="1.2"/>
<rect x="428.8" y="1304" width="1535.2" height="22.6" fill="#f8d6bd" stroke="#b9b4b0" stroke-width="1"/>
<rect x="428.8" y="1350.6" width="1491.7" height="22.9" fill="#f4ad7a" stroke="#b9b4b0" stroke-width="1"/>
<rect x="428.8" y="1397.5" width="1013.9" height="23" fill="#f6bd94" stroke="#b9b4b0" stroke-width="1"/>
<rect x="428.8" y="1444.1" width="859.7" height="23" fill="#f1a160" stroke="#b9b4b0" stroke-width="1"/>
<path d="M853.2 1256V1489" stroke="#f0a63c" stroke-width="1.1"/>
<text x="854" y="1269.8" font-size="12.6" fill="#f2ae3e" font-weight="bold" textLength="65.8" lengthAdjust="spacingAndGlyphs" >Threshold</text>
<text x="186.7" y="1322.2" font-size="14.8" fill="#444" textLength="233" lengthAdjust="spacingAndGlyphs" >Synaptogenesis signaling pathway</text>
<text x="50.4" y="1369.1" font-size="14.8" fill="#444" textLength="369.3" lengthAdjust="spacingAndGlyphs" >Activation of NMDA receptors and postsynaptic events</text>
<text x="209" y="1415.7" font-size="14.8" fill="#444" textLength="210.7" lengthAdjust="spacingAndGlyphs" >Protein ubiquitination pathway</text>
<text x="214.1" y="1461.9" font-size="14.8" fill="#444" textLength="205.6" lengthAdjust="spacingAndGlyphs" >Neurotransmitter release cycle</text>
</g>
<g font-weight="bold" font-size="42" fill="#000">
<text x="5.5" y="32.3" font-size="42" fill="#000" >A</text>
<text x="4" y="260.3" font-size="42" fill="#000" >B</text>
<text x="873" y="261.3" font-size="42" fill="#000" >C</text>
<text x="1516.2" y="261.2" font-size="42" fill="#000" >D</text>
<text x="3.5" y="1166.8" font-size="42" fill="#000" >E</text>
</g>
</svg>
</body></html>
